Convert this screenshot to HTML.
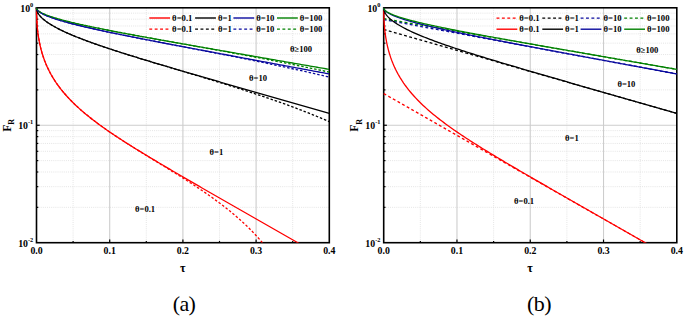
<!DOCTYPE html>
<html><head><meta charset="utf-8"><style>
html,body{margin:0;padding:0;background:#fff;}
body{width:685px;height:317px;overflow:hidden;}
svg{display:block;}
text{font-family:"Liberation Serif",serif;}
.gm{stroke:#dedede;stroke-width:0.8;stroke-dasharray:1 1.1;fill:none;}
.gM{stroke:#cdcdcd;stroke-width:1.1;fill:none;}
.tk{stroke:#000;stroke-width:1.2;}
.fr{fill:none;stroke:#000;stroke-width:1.6;}
.cs{fill:none;stroke-width:1.3;stroke-linejoin:round;}
.cda{fill:none;stroke-width:1.3;stroke-dasharray:2.5 1.9;}
.cdb{fill:none;stroke-width:1.3;stroke-dasharray:2.9 2.4;}
.ls{stroke-width:1.4;}
.ld{stroke-width:1.25;stroke-dasharray:2.9 2.5;}
.lg{font-size:8.7px;font-weight:bold;fill:#000;}
.tl{font-size:9.8px;font-weight:bold;fill:#000;}
.sup{font-size:6.3px;}
.an{font-size:8.6px;font-weight:bold;fill:#000;}
.cap{font-size:22px;fill:#000;letter-spacing:-0.6px;}
</style></head><body>
<svg width="685" height="317" viewBox="0 0 685 317">
<defs>
<clipPath id="cl"><rect x="34.5" y="5.8" width="294.8" height="236.89999999999998"/></clipPath>
<clipPath id="cr"><rect x="381.7" y="5.8" width="295.09999999999997" height="236.89999999999998"/></clipPath>
</defs>
<g><line x1="73.10" y1="7.80" x2="73.10" y2="242.70" class="gm"/>
<line x1="146.30" y1="7.80" x2="146.30" y2="242.70" class="gm"/>
<line x1="219.50" y1="7.80" x2="219.50" y2="242.70" class="gm"/>
<line x1="292.70" y1="7.80" x2="292.70" y2="242.70" class="gm"/>
<line x1="36.50" y1="207.34" x2="329.30" y2="207.34" class="gm"/>
<line x1="36.50" y1="186.66" x2="329.30" y2="186.66" class="gm"/>
<line x1="36.50" y1="171.99" x2="329.30" y2="171.99" class="gm"/>
<line x1="36.50" y1="160.61" x2="329.30" y2="160.61" class="gm"/>
<line x1="36.50" y1="151.31" x2="329.30" y2="151.31" class="gm"/>
<line x1="36.50" y1="143.44" x2="329.30" y2="143.44" class="gm"/>
<line x1="36.50" y1="136.63" x2="329.30" y2="136.63" class="gm"/>
<line x1="36.50" y1="130.62" x2="329.30" y2="130.62" class="gm"/>
<line x1="36.50" y1="89.89" x2="329.30" y2="89.89" class="gm"/>
<line x1="36.50" y1="69.21" x2="329.30" y2="69.21" class="gm"/>
<line x1="36.50" y1="54.54" x2="329.30" y2="54.54" class="gm"/>
<line x1="36.50" y1="43.16" x2="329.30" y2="43.16" class="gm"/>
<line x1="36.50" y1="33.86" x2="329.30" y2="33.86" class="gm"/>
<line x1="36.50" y1="25.99" x2="329.30" y2="25.99" class="gm"/>
<line x1="36.50" y1="19.18" x2="329.30" y2="19.18" class="gm"/>
<line x1="36.50" y1="13.17" x2="329.30" y2="13.17" class="gm"/>
<line x1="109.70" y1="7.80" x2="109.70" y2="242.70" class="gM"/>
<line x1="182.90" y1="7.80" x2="182.90" y2="242.70" class="gM"/>
<line x1="256.10" y1="7.80" x2="256.10" y2="242.70" class="gM"/>
<line x1="36.50" y1="125.25" x2="329.30" y2="125.25" class="gM"/></g>
<g><line x1="420.34" y1="7.80" x2="420.34" y2="242.70" class="gm"/>
<line x1="493.61" y1="7.80" x2="493.61" y2="242.70" class="gm"/>
<line x1="566.89" y1="7.80" x2="566.89" y2="242.70" class="gm"/>
<line x1="640.16" y1="7.80" x2="640.16" y2="242.70" class="gm"/>
<line x1="383.70" y1="207.34" x2="676.80" y2="207.34" class="gm"/>
<line x1="383.70" y1="186.66" x2="676.80" y2="186.66" class="gm"/>
<line x1="383.70" y1="171.99" x2="676.80" y2="171.99" class="gm"/>
<line x1="383.70" y1="160.61" x2="676.80" y2="160.61" class="gm"/>
<line x1="383.70" y1="151.31" x2="676.80" y2="151.31" class="gm"/>
<line x1="383.70" y1="143.44" x2="676.80" y2="143.44" class="gm"/>
<line x1="383.70" y1="136.63" x2="676.80" y2="136.63" class="gm"/>
<line x1="383.70" y1="130.62" x2="676.80" y2="130.62" class="gm"/>
<line x1="383.70" y1="89.89" x2="676.80" y2="89.89" class="gm"/>
<line x1="383.70" y1="69.21" x2="676.80" y2="69.21" class="gm"/>
<line x1="383.70" y1="54.54" x2="676.80" y2="54.54" class="gm"/>
<line x1="383.70" y1="43.16" x2="676.80" y2="43.16" class="gm"/>
<line x1="383.70" y1="33.86" x2="676.80" y2="33.86" class="gm"/>
<line x1="383.70" y1="25.99" x2="676.80" y2="25.99" class="gm"/>
<line x1="383.70" y1="19.18" x2="676.80" y2="19.18" class="gm"/>
<line x1="383.70" y1="13.17" x2="676.80" y2="13.17" class="gm"/>
<line x1="456.97" y1="7.80" x2="456.97" y2="242.70" class="gM"/>
<line x1="530.25" y1="7.80" x2="530.25" y2="242.70" class="gM"/>
<line x1="603.52" y1="7.80" x2="603.52" y2="242.70" class="gM"/>
<line x1="383.70" y1="125.25" x2="676.80" y2="125.25" class="gM"/></g>
<line x1="109.70" y1="242.70" x2="109.70" y2="239.50" class="tk"/>
<line x1="182.90" y1="242.70" x2="182.90" y2="239.50" class="tk"/>
<line x1="256.10" y1="242.70" x2="256.10" y2="239.50" class="tk"/>
<line x1="73.10" y1="242.70" x2="73.10" y2="240.90" class="tk"/>
<line x1="146.30" y1="242.70" x2="146.30" y2="240.90" class="tk"/>
<line x1="219.50" y1="242.70" x2="219.50" y2="240.90" class="tk"/>
<line x1="292.70" y1="242.70" x2="292.70" y2="240.90" class="tk"/>
<line x1="36.50" y1="125.25" x2="39.70" y2="125.25" class="tk"/>
<line x1="36.50" y1="207.34" x2="38.30" y2="207.34" class="tk"/>
<line x1="36.50" y1="186.66" x2="38.30" y2="186.66" class="tk"/>
<line x1="36.50" y1="171.99" x2="38.30" y2="171.99" class="tk"/>
<line x1="36.50" y1="160.61" x2="38.30" y2="160.61" class="tk"/>
<line x1="36.50" y1="151.31" x2="38.30" y2="151.31" class="tk"/>
<line x1="36.50" y1="143.44" x2="38.30" y2="143.44" class="tk"/>
<line x1="36.50" y1="136.63" x2="38.30" y2="136.63" class="tk"/>
<line x1="36.50" y1="130.62" x2="38.30" y2="130.62" class="tk"/>
<line x1="36.50" y1="89.89" x2="38.30" y2="89.89" class="tk"/>
<line x1="36.50" y1="69.21" x2="38.30" y2="69.21" class="tk"/>
<line x1="36.50" y1="54.54" x2="38.30" y2="54.54" class="tk"/>
<line x1="36.50" y1="43.16" x2="38.30" y2="43.16" class="tk"/>
<line x1="36.50" y1="33.86" x2="38.30" y2="33.86" class="tk"/>
<line x1="36.50" y1="25.99" x2="38.30" y2="25.99" class="tk"/>
<line x1="36.50" y1="19.18" x2="38.30" y2="19.18" class="tk"/>
<line x1="36.50" y1="13.17" x2="38.30" y2="13.17" class="tk"/>
<line x1="456.97" y1="242.70" x2="456.97" y2="239.50" class="tk"/>
<line x1="530.25" y1="242.70" x2="530.25" y2="239.50" class="tk"/>
<line x1="603.52" y1="242.70" x2="603.52" y2="239.50" class="tk"/>
<line x1="420.34" y1="242.70" x2="420.34" y2="240.90" class="tk"/>
<line x1="493.61" y1="242.70" x2="493.61" y2="240.90" class="tk"/>
<line x1="566.89" y1="242.70" x2="566.89" y2="240.90" class="tk"/>
<line x1="640.16" y1="242.70" x2="640.16" y2="240.90" class="tk"/>
<line x1="383.70" y1="125.25" x2="386.90" y2="125.25" class="tk"/>
<line x1="383.70" y1="207.34" x2="385.50" y2="207.34" class="tk"/>
<line x1="383.70" y1="186.66" x2="385.50" y2="186.66" class="tk"/>
<line x1="383.70" y1="171.99" x2="385.50" y2="171.99" class="tk"/>
<line x1="383.70" y1="160.61" x2="385.50" y2="160.61" class="tk"/>
<line x1="383.70" y1="151.31" x2="385.50" y2="151.31" class="tk"/>
<line x1="383.70" y1="143.44" x2="385.50" y2="143.44" class="tk"/>
<line x1="383.70" y1="136.63" x2="385.50" y2="136.63" class="tk"/>
<line x1="383.70" y1="130.62" x2="385.50" y2="130.62" class="tk"/>
<line x1="383.70" y1="89.89" x2="385.50" y2="89.89" class="tk"/>
<line x1="383.70" y1="69.21" x2="385.50" y2="69.21" class="tk"/>
<line x1="383.70" y1="54.54" x2="385.50" y2="54.54" class="tk"/>
<line x1="383.70" y1="43.16" x2="385.50" y2="43.16" class="tk"/>
<line x1="383.70" y1="33.86" x2="385.50" y2="33.86" class="tk"/>
<line x1="383.70" y1="25.99" x2="385.50" y2="25.99" class="tk"/>
<line x1="383.70" y1="19.18" x2="385.50" y2="19.18" class="tk"/>
<line x1="383.70" y1="13.17" x2="385.50" y2="13.17" class="tk"/>
<rect x="36.50" y="7.80" width="292.80" height="234.90" class="fr"/>
<rect x="383.70" y="7.80" width="293.10" height="234.90" class="fr"/>
<g clip-path="url(#cl)"><path d="M36.50,7.80 L36.54,12.19 L36.57,13.97 L36.61,15.31 L36.65,16.43 L36.68,17.41 L36.72,18.29 L36.76,19.09 L36.79,19.83 L36.83,20.52 L36.87,21.17 L36.90,21.79 L36.94,22.37 L36.98,22.93 L37.01,23.46 L37.05,23.98 L37.09,24.47 L37.12,24.95 L37.16,25.41 L37.20,25.86 L37.23,26.29 L37.27,26.71 L37.31,27.12 L37.34,27.52 L37.38,27.91 L37.41,28.29 L37.45,28.66 L37.49,29.03 L37.52,29.38 L37.56,29.73 L37.60,30.07 L37.63,30.41 L37.67,30.73 L37.71,31.06 L37.74,31.37 L37.78,31.68 L37.82,31.99 L37.85,32.29 L37.89,32.59 L37.93,32.88 L37.96,33.17 L38.19,34.83 L38.41,36.37 L38.63,37.80 L38.86,39.14 L39.08,40.41 L39.30,41.61 L39.53,42.75 L39.75,43.84 L39.97,44.88 L40.20,45.89 L40.42,46.85 L40.64,47.78 L40.87,48.68 L41.09,49.55 L41.31,50.39 L41.54,51.21 L41.76,52.00 L41.98,52.78 L42.21,53.53 L42.43,54.26 L42.65,54.98 L42.88,55.68 L43.10,56.36 L43.32,57.03 L43.55,57.69 L43.77,58.33 L43.99,58.95 L44.22,59.57 L44.44,60.17 L44.66,60.77 L44.89,61.35 L45.11,61.92 L45.33,62.48 L45.56,63.04 L45.78,63.58 L46.00,64.12 L46.23,64.64 L46.45,65.16 L46.67,65.67 L46.90,66.18 L47.12,66.67 L47.34,67.16 L47.57,67.65 L47.79,68.12 L48.01,68.59 L48.24,69.06 L48.46,69.52 L48.68,69.97 L48.91,70.42 L49.13,70.86 L49.35,71.30 L49.58,71.73 L49.80,72.15 L50.02,72.58 L50.25,72.99 L50.47,73.41 L50.69,73.82 L50.92,74.22 L51.14,74.62 L52.89,77.62 L54.64,80.42 L56.39,83.04 L58.14,85.51 L59.89,87.85 L61.64,90.09 L63.39,92.22 L65.14,94.27 L66.88,96.24 L68.63,98.14 L70.38,99.97 L72.13,101.75 L73.88,103.48 L75.63,105.16 L77.38,106.79 L79.13,108.38 L80.88,109.94 L82.63,111.46 L84.38,112.95 L86.13,114.41 L87.88,115.84 L89.63,117.25 L91.38,118.63 L93.13,119.99 L94.88,121.32 L96.63,122.64 L98.37,123.94 L100.12,125.23 L101.87,126.49 L103.62,127.74 L105.37,128.98 L107.12,130.20 L108.87,131.41 L110.62,132.61 L112.37,133.80 L114.12,134.97 L115.87,136.14 L117.62,137.29 L119.37,138.44 L121.12,139.58 L122.87,140.71 L124.62,141.83 L126.37,142.95 L128.12,144.06 L129.86,145.16 L131.61,146.26 L133.36,147.35 L135.11,148.44 L136.86,149.52 L138.61,150.60 L140.36,151.67 L142.11,152.74 L143.86,153.80 L145.61,154.86 L147.36,155.92 L149.11,156.97 L150.86,158.02 L152.61,159.07 L154.36,160.12 L156.11,161.16 L157.86,162.20 L159.60,163.24 L161.35,164.27 L163.10,165.30 L164.85,166.34 L166.60,167.37 L168.35,168.39 L170.10,169.42 L171.85,170.44 L173.60,171.47 L175.35,172.49 L177.10,173.51 L178.85,174.53 L180.60,175.54 L182.35,176.56 L184.10,177.58 L185.85,178.59 L187.60,179.61 L189.35,180.62 L191.09,181.63 L192.84,182.64 L194.59,183.65 L196.34,184.66 L198.09,185.67 L199.84,186.68 L201.59,187.69 L203.34,188.70 L205.09,189.71 L206.84,190.71 L208.59,191.72 L210.34,192.72 L212.09,193.73 L213.84,194.74 L215.59,195.74 L217.34,196.74 L219.09,197.75 L220.84,198.75 L222.58,199.76 L224.33,200.76 L226.08,201.76 L227.83,202.77 L229.58,203.77 L231.33,204.77 L233.08,205.77 L234.83,206.77 L236.58,207.78 L238.33,208.78 L240.08,209.78 L241.83,210.78 L243.58,211.78 L245.33,212.78 L247.08,213.78 L248.83,214.79 L250.58,215.79 L252.32,216.79 L254.07,217.79 L255.82,218.79 L257.57,219.79 L259.32,220.79 L261.07,221.79 L262.82,222.79 L264.57,223.79 L266.32,224.79 L268.07,225.79 L269.82,226.79 L271.57,227.79 L273.32,228.79 L275.07,229.79 L276.82,230.79 L278.57,231.79 L280.32,232.79 L282.07,233.79 L283.81,234.79 L285.56,235.79 L287.31,236.79 L289.06,237.79 L290.81,238.79 L292.56,239.79 L294.31,240.78 L296.06,241.78 L297.81,242.78 L299.56,243.78 L301.31,244.78 L303.06,245.78" stroke="#ff0000" class="cs"/>
<path d="M36.50,7.80 L36.54,8.62 L36.57,8.95 L36.61,9.21 L36.65,9.43 L36.68,9.63 L36.72,9.80 L36.76,9.96 L36.79,10.11 L36.83,10.25 L36.87,10.39 L36.90,10.52 L36.94,10.64 L36.98,10.75 L37.01,10.87 L37.05,10.97 L37.09,11.08 L37.12,11.18 L37.16,11.28 L37.20,11.38 L37.23,11.47 L37.27,11.56 L37.31,11.65 L37.34,11.74 L37.38,11.82 L37.41,11.91 L37.45,11.99 L37.49,12.07 L37.52,12.15 L37.56,12.23 L37.60,12.30 L37.63,12.38 L37.67,12.45 L37.71,12.52 L37.74,12.60 L37.78,12.67 L37.82,12.74 L37.85,12.81 L37.89,12.87 L37.93,12.94 L37.96,13.01 L38.19,13.40 L38.41,13.76 L38.63,14.10 L38.86,14.43 L39.08,14.74 L39.30,15.04 L39.53,15.33 L39.75,15.61 L39.97,15.88 L40.20,16.14 L40.42,16.39 L40.64,16.64 L40.87,16.88 L41.09,17.11 L41.31,17.34 L41.54,17.57 L41.76,17.79 L41.98,18.00 L42.21,18.21 L42.43,18.42 L42.65,18.62 L42.88,18.82 L43.10,19.02 L43.32,19.22 L43.55,19.41 L43.77,19.59 L43.99,19.78 L44.22,19.96 L44.44,20.14 L44.66,20.32 L44.89,20.50 L45.11,20.67 L45.33,20.84 L45.56,21.01 L45.78,21.18 L46.00,21.35 L46.23,21.51 L46.45,21.67 L46.67,21.83 L46.90,21.99 L47.12,22.15 L47.34,22.31 L47.57,22.46 L47.79,22.62 L48.01,22.77 L48.24,22.92 L48.46,23.07 L48.68,23.22 L48.91,23.36 L49.13,23.51 L49.35,23.65 L49.58,23.80 L49.80,23.94 L50.02,24.08 L50.25,24.22 L50.47,24.36 L50.69,24.50 L50.92,24.64 L51.14,24.77 L52.89,25.81 L54.64,26.80 L56.39,27.75 L58.14,28.67 L59.89,29.55 L61.64,30.41 L63.39,31.24 L65.14,32.05 L66.88,32.84 L68.63,33.62 L70.38,34.37 L72.13,35.12 L73.88,35.84 L75.63,36.56 L77.38,37.26 L79.13,37.95 L80.88,38.64 L82.63,39.31 L84.38,39.97 L86.13,40.63 L87.88,41.28 L89.63,41.92 L91.38,42.55 L93.13,43.18 L94.88,43.80 L96.63,44.41 L98.37,45.02 L100.12,45.63 L101.87,46.23 L103.62,46.82 L105.37,47.41 L107.12,48.00 L108.87,48.58 L110.62,49.16 L112.37,49.73 L114.12,50.30 L115.87,50.87 L117.62,51.44 L119.37,52.00 L121.12,52.56 L122.87,53.11 L124.62,53.67 L126.37,54.22 L128.12,54.77 L129.86,55.31 L131.61,55.86 L133.36,56.40 L135.11,56.94 L136.86,57.48 L138.61,58.02 L140.36,58.55 L142.11,59.09 L143.86,59.62 L145.61,60.15 L147.36,60.68 L149.11,61.21 L150.86,61.74 L152.61,62.26 L154.36,62.79 L156.11,63.31 L157.86,63.83 L159.60,64.35 L161.35,64.88 L163.10,65.40 L164.85,65.91 L166.60,66.43 L168.35,66.95 L170.10,67.47 L171.85,67.98 L173.60,68.50 L175.35,69.01 L177.10,69.53 L178.85,70.04 L180.60,70.55 L182.35,71.07 L184.10,71.58 L185.85,72.09 L187.60,72.60 L189.35,73.11 L191.09,73.62 L192.84,74.13 L194.59,74.64 L196.34,75.15 L198.09,75.66 L199.84,76.17 L201.59,76.68 L203.34,77.18 L205.09,77.69 L206.84,78.20 L208.59,78.71 L210.34,79.21 L212.09,79.72 L213.84,80.23 L215.59,80.73 L217.34,81.24 L219.09,81.74 L220.84,82.25 L222.58,82.75 L224.33,83.26 L226.08,83.76 L227.83,84.27 L229.58,84.77 L231.33,85.28 L233.08,85.78 L234.83,86.29 L236.58,86.79 L238.33,87.30 L240.08,87.80 L241.83,88.30 L243.58,88.81 L245.33,89.31 L247.08,89.81 L248.83,90.32 L250.58,90.82 L252.32,91.32 L254.07,91.83 L255.82,92.33 L257.57,92.83 L259.32,93.34 L261.07,93.84 L262.82,94.34 L264.57,94.85 L266.32,95.35 L268.07,95.85 L269.82,96.35 L271.57,96.86 L273.32,97.36 L275.07,97.86 L276.82,98.36 L278.57,98.87 L280.32,99.37 L282.07,99.87 L283.81,100.37 L285.56,100.88 L287.31,101.38 L289.06,101.88 L290.81,102.38 L292.56,102.89 L294.31,103.39 L296.06,103.89 L297.81,104.39 L299.56,104.90 L301.31,105.40 L303.06,105.90 L304.81,106.40 L306.56,106.90 L308.31,107.41 L310.06,107.91 L311.81,108.41 L313.56,108.91 L315.30,109.41 L317.05,109.92 L318.80,110.42 L320.55,110.92 L322.30,111.42 L324.05,111.92 L325.80,112.43 L327.55,112.93 L329.30,113.43" stroke="#000000" class="cs"/>
<path d="M36.50,7.80 L36.54,8.21 L36.57,8.38 L36.61,8.52 L36.65,8.63 L36.68,8.73 L36.72,8.82 L36.76,8.90 L36.79,8.98 L36.83,9.05 L36.87,9.12 L36.90,9.18 L36.94,9.24 L36.98,9.30 L37.01,9.36 L37.05,9.42 L37.09,9.47 L37.12,9.52 L37.16,9.57 L37.20,9.62 L37.23,9.67 L37.27,9.72 L37.31,9.76 L37.34,9.81 L37.38,9.85 L37.41,9.90 L37.45,9.94 L37.49,9.98 L37.52,10.02 L37.56,10.06 L37.60,10.10 L37.63,10.14 L37.67,10.18 L37.71,10.22 L37.74,10.25 L37.78,10.29 L37.82,10.33 L37.85,10.36 L37.89,10.40 L37.93,10.43 L37.96,10.47 L38.19,10.67 L38.41,10.86 L38.63,11.04 L38.86,11.21 L39.08,11.37 L39.30,11.53 L39.53,11.68 L39.75,11.83 L39.97,11.97 L40.20,12.11 L40.42,12.24 L40.64,12.37 L40.87,12.50 L41.09,12.62 L41.31,12.74 L41.54,12.86 L41.76,12.98 L41.98,13.09 L42.21,13.21 L42.43,13.32 L42.65,13.42 L42.88,13.53 L43.10,13.64 L43.32,13.74 L43.55,13.84 L43.77,13.94 L43.99,14.04 L44.22,14.14 L44.44,14.24 L44.66,14.33 L44.89,14.43 L45.11,14.52 L45.33,14.62 L45.56,14.71 L45.78,14.80 L46.00,14.89 L46.23,14.98 L46.45,15.06 L46.67,15.15 L46.90,15.24 L47.12,15.32 L47.34,15.41 L47.57,15.49 L47.79,15.58 L48.01,15.66 L48.24,15.74 L48.46,15.82 L48.68,15.90 L48.91,15.98 L49.13,16.06 L49.35,16.14 L49.58,16.22 L49.80,16.30 L50.02,16.37 L50.25,16.45 L50.47,16.53 L50.69,16.60 L50.92,16.68 L51.14,16.75 L52.89,17.32 L54.64,17.87 L56.39,18.40 L58.14,18.91 L59.89,19.40 L61.64,19.88 L63.39,20.35 L65.14,20.80 L66.88,21.25 L68.63,21.69 L70.38,22.12 L72.13,22.54 L73.88,22.95 L75.63,23.36 L77.38,23.77 L79.13,24.16 L80.88,24.56 L82.63,24.94 L84.38,25.33 L86.13,25.71 L87.88,26.08 L89.63,26.45 L91.38,26.82 L93.13,27.19 L94.88,27.55 L96.63,27.91 L98.37,28.26 L100.12,28.62 L101.87,28.97 L103.62,29.32 L105.37,29.67 L107.12,30.01 L108.87,30.35 L110.62,30.69 L112.37,31.03 L114.12,31.37 L115.87,31.71 L117.62,32.04 L119.37,32.37 L121.12,32.71 L122.87,33.04 L124.62,33.36 L126.37,33.69 L128.12,34.02 L129.86,34.34 L131.61,34.67 L133.36,34.99 L135.11,35.31 L136.86,35.64 L138.61,35.96 L140.36,36.28 L142.11,36.60 L143.86,36.91 L145.61,37.23 L147.36,37.55 L149.11,37.87 L150.86,38.18 L152.61,38.50 L154.36,38.81 L156.11,39.13 L157.86,39.44 L159.60,39.75 L161.35,40.07 L163.10,40.38 L164.85,40.69 L166.60,41.00 L168.35,41.31 L170.10,41.62 L171.85,41.93 L173.60,42.24 L175.35,42.55 L177.10,42.86 L178.85,43.17 L180.60,43.48 L182.35,43.79 L184.10,44.10 L185.85,44.41 L187.60,44.71 L189.35,45.02 L191.09,45.33 L192.84,45.64 L194.59,45.94 L196.34,46.25 L198.09,46.56 L199.84,46.86 L201.59,47.17 L203.34,47.48 L205.09,47.78 L206.84,48.09 L208.59,48.40 L210.34,48.70 L212.09,49.01 L213.84,49.31 L215.59,49.62 L217.34,49.92 L219.09,50.23 L220.84,50.53 L222.58,50.84 L224.33,51.14 L226.08,51.45 L227.83,51.75 L229.58,52.06 L231.33,52.36 L233.08,52.67 L234.83,52.97 L236.58,53.28 L238.33,53.58 L240.08,53.88 L241.83,54.19 L243.58,54.49 L245.33,54.80 L247.08,55.10 L248.83,55.41 L250.58,55.71 L252.32,56.01 L254.07,56.32 L255.82,56.62 L257.57,56.93 L259.32,57.23 L261.07,57.53 L262.82,57.84 L264.57,58.14 L266.32,58.45 L268.07,58.75 L269.82,59.05 L271.57,59.36 L273.32,59.66 L275.07,59.96 L276.82,60.27 L278.57,60.57 L280.32,60.87 L282.07,61.18 L283.81,61.48 L285.56,61.79 L287.31,62.09 L289.06,62.39 L290.81,62.70 L292.56,63.00 L294.31,63.30 L296.06,63.61 L297.81,63.91 L299.56,64.21 L301.31,64.52 L303.06,64.82 L304.81,65.12 L306.56,65.43 L308.31,65.73 L310.06,66.03 L311.81,66.34 L313.56,66.64 L315.30,66.94 L317.05,67.25 L318.80,67.55 L320.55,67.85 L322.30,68.16 L324.05,68.46 L325.80,68.76 L327.55,69.07 L329.30,69.37" stroke="#008000" class="cs"/>
<path d="M36.50,7.80 L36.54,8.25 L36.57,8.44 L36.61,8.58 L36.65,8.70 L36.68,8.81 L36.72,8.91 L36.76,9.00 L36.79,9.08 L36.83,9.16 L36.87,9.23 L36.90,9.30 L36.94,9.37 L36.98,9.44 L37.01,9.50 L37.05,9.56 L37.09,9.62 L37.12,9.68 L37.16,9.73 L37.20,9.78 L37.23,9.84 L37.27,9.89 L37.31,9.94 L37.34,9.99 L37.38,10.03 L37.41,10.08 L37.45,10.13 L37.49,10.17 L37.52,10.22 L37.56,10.26 L37.60,10.30 L37.63,10.35 L37.67,10.39 L37.71,10.43 L37.74,10.47 L37.78,10.51 L37.82,10.55 L37.85,10.59 L37.89,10.63 L37.93,10.66 L37.96,10.70 L38.19,10.92 L38.41,11.13 L38.63,11.32 L38.86,11.51 L39.08,11.68 L39.30,11.85 L39.53,12.02 L39.75,12.18 L39.97,12.33 L40.20,12.48 L40.42,12.62 L40.64,12.77 L40.87,12.90 L41.09,13.04 L41.31,13.17 L41.54,13.30 L41.76,13.43 L41.98,13.55 L42.21,13.67 L42.43,13.79 L42.65,13.91 L42.88,14.03 L43.10,14.14 L43.32,14.25 L43.55,14.36 L43.77,14.47 L43.99,14.58 L44.22,14.69 L44.44,14.79 L44.66,14.90 L44.89,15.00 L45.11,15.10 L45.33,15.20 L45.56,15.30 L45.78,15.40 L46.00,15.49 L46.23,15.59 L46.45,15.69 L46.67,15.78 L46.90,15.87 L47.12,15.97 L47.34,16.06 L47.57,16.15 L47.79,16.24 L48.01,16.33 L48.24,16.42 L48.46,16.50 L48.68,16.59 L48.91,16.68 L49.13,16.76 L49.35,16.85 L49.58,16.93 L49.80,17.02 L50.02,17.10 L50.25,17.18 L50.47,17.27 L50.69,17.35 L50.92,17.43 L51.14,17.51 L52.89,18.13 L54.64,18.72 L56.39,19.29 L58.14,19.84 L59.89,20.37 L61.64,20.89 L63.39,21.39 L65.14,21.88 L66.88,22.36 L68.63,22.84 L70.38,23.30 L72.13,23.75 L73.88,24.20 L75.63,24.64 L77.38,25.08 L79.13,25.50 L80.88,25.93 L82.63,26.34 L84.38,26.76 L86.13,27.16 L87.88,27.57 L89.63,27.97 L91.38,28.36 L93.13,28.75 L94.88,29.14 L96.63,29.53 L98.37,29.91 L100.12,30.29 L101.87,30.67 L103.62,31.04 L105.37,31.42 L107.12,31.79 L108.87,32.16 L110.62,32.52 L112.37,32.89 L114.12,33.25 L115.87,33.61 L117.62,33.97 L119.37,34.32 L121.12,34.68 L122.87,35.03 L124.62,35.39 L126.37,35.74 L128.12,36.09 L129.86,36.44 L131.61,36.79 L133.36,37.13 L135.11,37.48 L136.86,37.82 L138.61,38.17 L140.36,38.51 L142.11,38.85 L143.86,39.19 L145.61,39.53 L147.36,39.87 L149.11,40.21 L150.86,40.55 L152.61,40.89 L154.36,41.23 L156.11,41.56 L157.86,41.90 L159.60,42.24 L161.35,42.57 L163.10,42.90 L164.85,43.24 L166.60,43.57 L168.35,43.91 L170.10,44.24 L171.85,44.57 L173.60,44.90 L175.35,45.24 L177.10,45.57 L178.85,45.90 L180.60,46.23 L182.35,46.56 L184.10,46.89 L185.85,47.22 L187.60,47.55 L189.35,47.88 L191.09,48.21 L192.84,48.54 L194.59,48.87 L196.34,49.20 L198.09,49.52 L199.84,49.85 L201.59,50.18 L203.34,50.51 L205.09,50.84 L206.84,51.16 L208.59,51.49 L210.34,51.82 L212.09,52.15 L213.84,52.47 L215.59,52.80 L217.34,53.13 L219.09,53.46 L220.84,53.78 L222.58,54.11 L224.33,54.44 L226.08,54.76 L227.83,55.09 L229.58,55.41 L231.33,55.74 L233.08,56.07 L234.83,56.39 L236.58,56.72 L238.33,57.05 L240.08,57.37 L241.83,57.70 L243.58,58.02 L245.33,58.35 L247.08,58.67 L248.83,59.00 L250.58,59.33 L252.32,59.65 L254.07,59.98 L255.82,60.30 L257.57,60.63 L259.32,60.95 L261.07,61.28 L262.82,61.60 L264.57,61.93 L266.32,62.25 L268.07,62.58 L269.82,62.91 L271.57,63.23 L273.32,63.56 L275.07,63.88 L276.82,64.21 L278.57,64.53 L280.32,64.86 L282.07,65.18 L283.81,65.51 L285.56,65.83 L287.31,66.16 L289.06,66.48 L290.81,66.81 L292.56,67.13 L294.31,67.46 L296.06,67.78 L297.81,68.11 L299.56,68.43 L301.31,68.76 L303.06,69.08 L304.81,69.41 L306.56,69.73 L308.31,70.06 L310.06,70.38 L311.81,70.71 L313.56,71.03 L315.30,71.36 L317.05,71.68 L318.80,72.01 L320.55,72.33 L322.30,72.65 L324.05,72.98 L325.80,73.30 L327.55,73.63 L329.30,73.95" stroke="#0a0a9e" class="cs"/>
<path d="M36.50,7.80 L36.54,12.19 L36.57,13.97 L36.61,15.31 L36.65,16.43 L36.68,17.41 L36.72,18.29 L36.76,19.09 L36.79,19.83 L36.83,20.52 L36.87,21.17 L36.90,21.79 L36.94,22.37 L36.98,22.93 L37.01,23.46 L37.05,23.98 L37.09,24.47 L37.12,24.95 L37.16,25.41 L37.20,25.86 L37.23,26.29 L37.27,26.71 L37.31,27.12 L37.34,27.52 L37.38,27.91 L37.41,28.29 L37.45,28.66 L37.49,29.03 L37.52,29.38 L37.56,29.73 L37.60,30.07 L37.63,30.41 L37.67,30.73 L37.71,31.06 L37.74,31.37 L37.78,31.68 L37.82,31.99 L37.85,32.29 L37.89,32.59 L37.93,32.88 L37.96,33.17 L38.19,34.83 L38.41,36.37 L38.63,37.80 L38.86,39.14 L39.08,40.41 L39.30,41.61 L39.53,42.75 L39.75,43.84 L39.97,44.88 L40.20,45.89 L40.42,46.85 L40.64,47.78 L40.87,48.68 L41.09,49.55 L41.31,50.39 L41.54,51.21 L41.76,52.00 L41.98,52.78 L42.21,53.53 L42.43,54.26 L42.65,54.98 L42.88,55.68 L43.10,56.36 L43.32,57.03 L43.55,57.69 L43.77,58.33 L43.99,58.95 L44.22,59.57 L44.44,60.17 L44.66,60.77 L44.89,61.35 L45.11,61.92 L45.33,62.48 L45.56,63.04 L45.78,63.58 L46.00,64.12 L46.23,64.64 L46.45,65.16 L46.67,65.67 L46.90,66.18 L47.12,66.67 L47.34,67.16 L47.57,67.65 L47.79,68.12 L48.01,68.59 L48.24,69.06 L48.46,69.52 L48.68,69.97 L48.91,70.42 L49.13,70.86 L49.35,71.30 L49.58,71.73 L49.80,72.15 L50.02,72.58 L50.25,72.99 L50.47,73.41 L50.69,73.82 L50.92,74.22 L51.14,74.62 L52.89,77.62 L54.64,80.42 L56.39,83.04 L58.14,85.51 L59.89,87.85 L61.64,90.09 L63.39,92.22 L65.14,94.27 L66.88,96.24 L68.63,98.14 L70.38,99.97 L72.13,101.75 L73.88,103.48 L75.63,105.16 L77.38,106.79 L79.13,108.38 L80.88,109.94 L82.63,111.46 L84.38,112.95 L86.13,114.41 L87.88,115.84 L89.63,117.25 L91.38,118.63 L93.13,119.99 L94.88,121.32 L96.63,122.64 L98.37,123.94 L100.12,125.23 L101.87,126.49 L103.62,127.74 L105.37,128.98 L107.12,130.20 L108.87,131.41 L110.62,132.61 L112.37,133.80 L114.12,134.98 L115.87,136.14 L117.62,137.30 L119.37,138.45 L121.12,139.59 L122.87,140.73 L124.62,141.85 L126.37,142.97 L128.12,144.09 L129.86,145.19 L131.61,146.30 L133.36,147.40 L135.11,148.49 L136.86,149.58 L138.61,150.67 L140.36,151.75 L142.11,152.83 L143.86,153.91 L145.61,154.99 L147.36,156.06 L149.11,157.13 L150.86,158.21 L152.61,159.28 L154.36,160.35 L156.11,161.42 L157.86,162.49 L159.60,163.56 L161.35,164.63 L163.10,165.71 L164.85,166.78 L166.60,167.86 L168.35,168.94 L170.10,170.02 L171.85,171.10 L173.60,172.19 L175.35,173.28 L177.10,174.37 L178.85,175.47 L180.60,176.57 L182.35,177.67 L184.10,178.79 L185.85,179.90 L187.60,181.03 L189.35,182.15 L191.09,183.29 L192.84,184.43 L194.59,185.58 L196.34,186.74 L198.09,187.90 L199.84,189.08 L201.59,190.26 L203.34,191.45 L205.09,192.65 L206.84,193.87 L208.59,195.09 L210.34,196.32 L212.09,197.57 L213.84,198.83 L215.59,200.11 L217.34,201.39 L219.09,202.70 L220.84,204.01 L222.58,205.35 L224.33,206.70 L226.08,208.07 L227.83,209.46 L229.58,210.86 L231.33,212.29 L233.08,213.74 L234.83,215.22 L236.58,216.71 L238.33,218.24 L240.08,219.79 L241.83,221.37 L243.58,222.98 L245.33,224.62 L247.08,226.29 L248.83,228.00 L250.58,229.75 L252.32,231.54 L254.07,233.37 L255.82,235.24 L257.57,237.17 L259.32,239.15 L261.07,241.18 L262.82,243.27 L264.57,245.43 L266.32,247.66" stroke="#ff0000" class="cda"/>
<path d="M36.50,7.80 L36.54,8.62 L36.57,8.95 L36.61,9.21 L36.65,9.43 L36.68,9.63 L36.72,9.80 L36.76,9.96 L36.79,10.11 L36.83,10.25 L36.87,10.39 L36.90,10.52 L36.94,10.64 L36.98,10.75 L37.01,10.87 L37.05,10.97 L37.09,11.08 L37.12,11.18 L37.16,11.28 L37.20,11.38 L37.23,11.47 L37.27,11.56 L37.31,11.65 L37.34,11.74 L37.38,11.82 L37.41,11.91 L37.45,11.99 L37.49,12.07 L37.52,12.15 L37.56,12.23 L37.60,12.30 L37.63,12.38 L37.67,12.45 L37.71,12.52 L37.74,12.60 L37.78,12.67 L37.82,12.74 L37.85,12.81 L37.89,12.87 L37.93,12.94 L37.96,13.01 L38.19,13.40 L38.41,13.76 L38.63,14.10 L38.86,14.43 L39.08,14.74 L39.30,15.04 L39.53,15.33 L39.75,15.61 L39.97,15.88 L40.20,16.14 L40.42,16.39 L40.64,16.64 L40.87,16.88 L41.09,17.11 L41.31,17.34 L41.54,17.57 L41.76,17.79 L41.98,18.00 L42.21,18.21 L42.43,18.42 L42.65,18.62 L42.88,18.82 L43.10,19.02 L43.32,19.22 L43.55,19.41 L43.77,19.59 L43.99,19.78 L44.22,19.96 L44.44,20.14 L44.66,20.32 L44.89,20.50 L45.11,20.67 L45.33,20.84 L45.56,21.01 L45.78,21.18 L46.00,21.35 L46.23,21.51 L46.45,21.67 L46.67,21.83 L46.90,21.99 L47.12,22.15 L47.34,22.31 L47.57,22.46 L47.79,22.62 L48.01,22.77 L48.24,22.92 L48.46,23.07 L48.68,23.22 L48.91,23.36 L49.13,23.51 L49.35,23.65 L49.58,23.80 L49.80,23.94 L50.02,24.08 L50.25,24.22 L50.47,24.36 L50.69,24.50 L50.92,24.64 L51.14,24.77 L52.89,25.81 L54.64,26.80 L56.39,27.75 L58.14,28.67 L59.89,29.55 L61.64,30.41 L63.39,31.24 L65.14,32.05 L66.88,32.84 L68.63,33.62 L70.38,34.37 L72.13,35.12 L73.88,35.84 L75.63,36.56 L77.38,37.26 L79.13,37.95 L80.88,38.64 L82.63,39.31 L84.38,39.97 L86.13,40.63 L87.88,41.28 L89.63,41.92 L91.38,42.55 L93.13,43.18 L94.88,43.80 L96.63,44.41 L98.37,45.02 L100.12,45.63 L101.87,46.23 L103.62,46.82 L105.37,47.41 L107.12,48.00 L108.87,48.58 L110.62,49.16 L112.37,49.73 L114.12,50.30 L115.87,50.87 L117.62,51.44 L119.37,52.00 L121.12,52.56 L122.87,53.11 L124.62,53.67 L126.37,54.22 L128.12,54.77 L129.86,55.32 L131.61,55.86 L133.36,56.41 L135.11,56.95 L136.86,57.49 L138.61,58.03 L140.36,58.56 L142.11,59.10 L143.86,59.63 L145.61,60.16 L147.36,60.70 L149.11,61.23 L150.86,61.76 L152.61,62.29 L154.36,62.81 L156.11,63.34 L157.86,63.87 L159.60,64.39 L161.35,64.92 L163.10,65.44 L164.85,65.97 L166.60,66.49 L168.35,67.02 L170.10,67.54 L171.85,68.06 L173.60,68.59 L175.35,69.11 L177.10,69.63 L178.85,70.16 L180.60,70.68 L182.35,71.20 L184.10,71.73 L185.85,72.25 L187.60,72.78 L189.35,73.30 L191.09,73.83 L192.84,74.35 L194.59,74.88 L196.34,75.41 L198.09,75.93 L199.84,76.46 L201.59,76.99 L203.34,77.52 L205.09,78.05 L206.84,78.58 L208.59,79.11 L210.34,79.65 L212.09,80.18 L213.84,80.72 L215.59,81.25 L217.34,81.79 L219.09,82.33 L220.84,82.87 L222.58,83.41 L224.33,83.96 L226.08,84.50 L227.83,85.05 L229.58,85.60 L231.33,86.15 L233.08,86.70 L234.83,87.25 L236.58,87.81 L238.33,88.36 L240.08,88.92 L241.83,89.48 L243.58,90.04 L245.33,90.61 L247.08,91.18 L248.83,91.75 L250.58,92.32 L252.32,92.89 L254.07,93.47 L255.82,94.05 L257.57,94.63 L259.32,95.21 L261.07,95.80 L262.82,96.39 L264.57,96.98 L266.32,97.57 L268.07,98.17 L269.82,98.77 L271.57,99.38 L273.32,99.98 L275.07,100.59 L276.82,101.21 L278.57,101.83 L280.32,102.45 L282.07,103.07 L283.81,103.70 L285.56,104.33 L287.31,104.97 L289.06,105.61 L290.81,106.25 L292.56,106.90 L294.31,107.55 L296.06,108.21 L297.81,108.87 L299.56,109.54 L301.31,110.21 L303.06,110.88 L304.81,111.56 L306.56,112.25 L308.31,112.94 L310.06,113.64 L311.81,114.34 L313.56,115.05 L315.30,115.76 L317.05,116.48 L318.80,117.21 L320.55,117.94 L322.30,118.68 L324.05,119.42 L325.80,120.17 L327.55,120.93 L329.30,121.70" stroke="#000000" class="cda"/>
<path d="M36.50,7.80 L36.54,8.25 L36.57,8.44 L36.61,8.58 L36.65,8.70 L36.68,8.81 L36.72,8.91 L36.76,9.00 L36.79,9.08 L36.83,9.16 L36.87,9.23 L36.90,9.30 L36.94,9.37 L36.98,9.44 L37.01,9.50 L37.05,9.56 L37.09,9.62 L37.12,9.68 L37.16,9.73 L37.20,9.78 L37.23,9.84 L37.27,9.89 L37.31,9.94 L37.34,9.99 L37.38,10.03 L37.41,10.08 L37.45,10.13 L37.49,10.17 L37.52,10.22 L37.56,10.26 L37.60,10.30 L37.63,10.35 L37.67,10.39 L37.71,10.43 L37.74,10.47 L37.78,10.51 L37.82,10.55 L37.85,10.59 L37.89,10.63 L37.93,10.66 L37.96,10.70 L38.19,10.92 L38.41,11.13 L38.63,11.32 L38.86,11.51 L39.08,11.68 L39.30,11.85 L39.53,12.02 L39.75,12.18 L39.97,12.33 L40.20,12.48 L40.42,12.62 L40.64,12.77 L40.87,12.90 L41.09,13.04 L41.31,13.17 L41.54,13.30 L41.76,13.43 L41.98,13.55 L42.21,13.67 L42.43,13.79 L42.65,13.91 L42.88,14.03 L43.10,14.14 L43.32,14.25 L43.55,14.36 L43.77,14.47 L43.99,14.58 L44.22,14.69 L44.44,14.79 L44.66,14.90 L44.89,15.00 L45.11,15.10 L45.33,15.20 L45.56,15.30 L45.78,15.40 L46.00,15.49 L46.23,15.59 L46.45,15.69 L46.67,15.78 L46.90,15.87 L47.12,15.97 L47.34,16.06 L47.57,16.15 L47.79,16.24 L48.01,16.33 L48.24,16.42 L48.46,16.50 L48.68,16.59 L48.91,16.68 L49.13,16.76 L49.35,16.85 L49.58,16.93 L49.80,17.02 L50.02,17.10 L50.25,17.18 L50.47,17.27 L50.69,17.35 L50.92,17.43 L51.14,17.51 L52.89,18.13 L54.64,18.72 L56.39,19.29 L58.14,19.84 L59.89,20.37 L61.64,20.89 L63.39,21.39 L65.14,21.88 L66.88,22.36 L68.63,22.84 L70.38,23.30 L72.13,23.75 L73.88,24.20 L75.63,24.64 L77.38,25.08 L79.13,25.50 L80.88,25.93 L82.63,26.34 L84.38,26.76 L86.13,27.16 L87.88,27.57 L89.63,27.97 L91.38,28.36 L93.13,28.75 L94.88,29.14 L96.63,29.53 L98.37,29.91 L100.12,30.29 L101.87,30.67 L103.62,31.04 L105.37,31.42 L107.12,31.79 L108.87,32.16 L110.62,32.52 L112.37,32.89 L114.12,33.25 L115.87,33.61 L117.62,33.97 L119.37,34.32 L121.12,34.68 L122.87,35.03 L124.62,35.39 L126.37,35.74 L128.12,36.09 L129.86,36.44 L131.61,36.79 L133.36,37.13 L135.11,37.48 L136.86,37.83 L138.61,38.17 L140.36,38.51 L142.11,38.86 L143.86,39.20 L145.61,39.54 L147.36,39.88 L149.11,40.22 L150.86,40.56 L152.61,40.90 L154.36,41.24 L156.11,41.58 L157.86,41.92 L159.60,42.25 L161.35,42.59 L163.10,42.93 L164.85,43.26 L166.60,43.60 L168.35,43.94 L170.10,44.27 L171.85,44.61 L173.60,44.94 L175.35,45.28 L177.10,45.61 L178.85,45.95 L180.60,46.29 L182.35,46.62 L184.10,46.96 L185.85,47.29 L187.60,47.63 L189.35,47.96 L191.09,48.30 L192.84,48.64 L194.59,48.97 L196.34,49.31 L198.09,49.65 L199.84,49.98 L201.59,50.32 L203.34,50.66 L205.09,50.99 L206.84,51.33 L208.59,51.67 L210.34,52.01 L212.09,52.35 L213.84,52.69 L215.59,53.03 L217.34,53.37 L219.09,53.71 L220.84,54.05 L222.58,54.40 L224.33,54.74 L226.08,55.08 L227.83,55.43 L229.58,55.77 L231.33,56.12 L233.08,56.46 L234.83,56.81 L236.58,57.15 L238.33,57.50 L240.08,57.85 L241.83,58.20 L243.58,58.55 L245.33,58.90 L247.08,59.25 L248.83,59.61 L250.58,59.96 L252.32,60.31 L254.07,60.67 L255.82,61.02 L257.57,61.38 L259.32,61.74 L261.07,62.10 L262.82,62.46 L264.57,62.82 L266.32,63.18 L268.07,63.54 L269.82,63.91 L271.57,64.27 L273.32,64.64 L275.07,65.01 L276.82,65.38 L278.57,65.75 L280.32,66.12 L282.07,66.49 L283.81,66.86 L285.56,67.24 L287.31,67.62 L289.06,67.99 L290.81,68.37 L292.56,68.75 L294.31,69.13 L296.06,69.52 L297.81,69.90 L299.56,70.29 L301.31,70.68 L303.06,71.07 L304.81,71.46 L306.56,71.85 L308.31,72.24 L310.06,72.64 L311.81,73.04 L313.56,73.43 L315.30,73.84 L317.05,74.24 L318.80,74.64 L320.55,75.05 L322.30,75.46 L324.05,75.87 L325.80,76.28 L327.55,76.69 L329.30,77.11" stroke="#0a0a9e" class="cda"/>
<path d="M36.50,7.80 L36.54,8.21 L36.57,8.38 L36.61,8.52 L36.65,8.63 L36.68,8.73 L36.72,8.82 L36.76,8.90 L36.79,8.98 L36.83,9.05 L36.87,9.12 L36.90,9.18 L36.94,9.24 L36.98,9.30 L37.01,9.36 L37.05,9.42 L37.09,9.47 L37.12,9.52 L37.16,9.57 L37.20,9.62 L37.23,9.67 L37.27,9.72 L37.31,9.76 L37.34,9.81 L37.38,9.85 L37.41,9.90 L37.45,9.94 L37.49,9.98 L37.52,10.02 L37.56,10.06 L37.60,10.10 L37.63,10.14 L37.67,10.18 L37.71,10.22 L37.74,10.25 L37.78,10.29 L37.82,10.33 L37.85,10.36 L37.89,10.40 L37.93,10.43 L37.96,10.47 L38.19,10.67 L38.41,10.86 L38.63,11.04 L38.86,11.21 L39.08,11.37 L39.30,11.53 L39.53,11.68 L39.75,11.83 L39.97,11.97 L40.20,12.11 L40.42,12.24 L40.64,12.37 L40.87,12.50 L41.09,12.62 L41.31,12.74 L41.54,12.86 L41.76,12.98 L41.98,13.09 L42.21,13.21 L42.43,13.32 L42.65,13.42 L42.88,13.53 L43.10,13.64 L43.32,13.74 L43.55,13.84 L43.77,13.94 L43.99,14.04 L44.22,14.14 L44.44,14.24 L44.66,14.33 L44.89,14.43 L45.11,14.52 L45.33,14.62 L45.56,14.71 L45.78,14.80 L46.00,14.89 L46.23,14.98 L46.45,15.06 L46.67,15.15 L46.90,15.24 L47.12,15.32 L47.34,15.41 L47.57,15.49 L47.79,15.58 L48.01,15.66 L48.24,15.74 L48.46,15.82 L48.68,15.90 L48.91,15.98 L49.13,16.06 L49.35,16.14 L49.58,16.22 L49.80,16.30 L50.02,16.37 L50.25,16.45 L50.47,16.53 L50.69,16.60 L50.92,16.68 L51.14,16.75 L52.89,17.32 L54.64,17.87 L56.39,18.40 L58.14,18.91 L59.89,19.40 L61.64,19.88 L63.39,20.35 L65.14,20.80 L66.88,21.25 L68.63,21.69 L70.38,22.12 L72.13,22.54 L73.88,22.95 L75.63,23.36 L77.38,23.77 L79.13,24.16 L80.88,24.56 L82.63,24.94 L84.38,25.33 L86.13,25.71 L87.88,26.08 L89.63,26.45 L91.38,26.82 L93.13,27.19 L94.88,27.55 L96.63,27.91 L98.37,28.26 L100.12,28.62 L101.87,28.97 L103.62,29.32 L105.37,29.67 L107.12,30.01 L108.87,30.35 L110.62,30.69 L112.37,31.03 L114.12,31.37 L115.87,31.71 L117.62,32.04 L119.37,32.37 L121.12,32.71 L122.87,33.04 L124.62,33.37 L126.37,33.69 L128.12,34.02 L129.86,34.35 L131.61,34.67 L133.36,34.99 L135.11,35.32 L136.86,35.64 L138.61,35.96 L140.36,36.28 L142.11,36.60 L143.86,36.92 L145.61,37.24 L147.36,37.56 L149.11,37.87 L150.86,38.19 L152.61,38.51 L154.36,38.82 L156.11,39.14 L157.86,39.45 L159.60,39.77 L161.35,40.08 L163.10,40.40 L164.85,40.71 L166.60,41.03 L168.35,41.34 L170.10,41.65 L171.85,41.97 L173.60,42.28 L175.35,42.59 L177.10,42.91 L178.85,43.22 L180.60,43.53 L182.35,43.84 L184.10,44.16 L185.85,44.47 L187.60,44.78 L189.35,45.10 L191.09,45.41 L192.84,45.72 L194.59,46.04 L196.34,46.35 L198.09,46.67 L199.84,46.98 L201.59,47.29 L203.34,47.61 L205.09,47.92 L206.84,48.24 L208.59,48.55 L210.34,48.87 L212.09,49.19 L213.84,49.50 L215.59,49.82 L217.34,50.14 L219.09,50.46 L220.84,50.77 L222.58,51.09 L224.33,51.41 L226.08,51.73 L227.83,52.05 L229.58,52.37 L231.33,52.70 L233.08,53.02 L234.83,53.34 L236.58,53.66 L238.33,53.99 L240.08,54.31 L241.83,54.64 L243.58,54.96 L245.33,55.29 L247.08,55.62 L248.83,55.94 L250.58,56.27 L252.32,56.60 L254.07,56.93 L255.82,57.26 L257.57,57.60 L259.32,57.93 L261.07,58.26 L262.82,58.60 L264.57,58.93 L266.32,59.27 L268.07,59.60 L269.82,59.94 L271.57,60.28 L273.32,60.62 L275.07,60.96 L276.82,61.31 L278.57,61.65 L280.32,61.99 L282.07,62.34 L283.81,62.68 L285.56,63.03 L287.31,63.38 L289.06,63.73 L290.81,64.08 L292.56,64.43 L294.31,64.79 L296.06,65.14 L297.81,65.50 L299.56,65.85 L301.31,66.21 L303.06,66.57 L304.81,66.93 L306.56,67.30 L308.31,67.66 L310.06,68.03 L311.81,68.39 L313.56,68.76 L315.30,69.13 L317.05,69.50 L318.80,69.87 L320.55,70.25 L322.30,70.63 L324.05,71.00 L325.80,71.38 L327.55,71.76 L329.30,72.15" stroke="#008000" class="cda"/></g>
<g clip-path="url(#cr)"><path d="M383.70,93.56 L383.74,93.58 L383.77,93.60 L383.81,93.62 L383.85,93.64 L383.88,93.66 L383.92,93.68 L383.96,93.71 L383.99,93.73 L384.03,93.75 L384.07,93.77 L384.10,93.79 L384.14,93.81 L384.18,93.83 L384.21,93.85 L384.25,93.87 L384.29,93.89 L384.32,93.91 L384.36,93.94 L384.40,93.96 L384.43,93.98 L384.47,94.00 L384.51,94.02 L384.54,94.04 L384.58,94.06 L384.62,94.08 L384.65,94.10 L384.69,94.12 L384.73,94.14 L384.76,94.17 L384.80,94.19 L384.84,94.21 L384.87,94.23 L384.91,94.25 L384.95,94.27 L384.98,94.29 L385.02,94.31 L385.06,94.33 L385.09,94.35 L385.13,94.37 L385.17,94.40 L385.39,94.52 L385.61,94.65 L385.84,94.78 L386.06,94.91 L386.28,95.03 L386.51,95.16 L386.73,95.29 L386.95,95.42 L387.18,95.54 L387.40,95.67 L387.62,95.80 L387.85,95.93 L388.07,96.05 L388.30,96.18 L388.52,96.31 L388.74,96.44 L388.97,96.56 L389.19,96.69 L389.41,96.82 L389.64,96.95 L389.86,97.07 L390.08,97.20 L390.31,97.33 L390.53,97.46 L390.75,97.58 L390.98,97.71 L391.20,97.84 L391.42,97.97 L391.65,98.09 L391.87,98.22 L392.10,98.35 L392.32,98.48 L392.54,98.60 L392.77,98.73 L392.99,98.86 L393.21,98.99 L393.44,99.11 L393.66,99.24 L393.88,99.37 L394.11,99.50 L394.33,99.62 L394.55,99.75 L394.78,99.88 L395.00,100.01 L395.23,100.13 L395.45,100.26 L395.67,100.39 L395.90,100.52 L396.12,100.64 L396.34,100.77 L396.57,100.90 L396.79,101.03 L397.01,101.15 L397.24,101.28 L397.46,101.41 L397.68,101.54 L397.91,101.67 L398.13,101.79 L398.35,101.92 L400.11,102.92 L401.86,103.92 L403.61,104.92 L405.36,105.92 L407.11,106.92 L408.86,107.91 L410.61,108.91 L412.36,109.91 L414.12,110.91 L415.87,111.91 L417.62,112.91 L419.37,113.91 L421.12,114.91 L422.87,115.91 L424.62,116.91 L426.37,117.91 L428.13,118.90 L429.88,119.90 L431.63,120.90 L433.38,121.90 L435.13,122.90 L436.88,123.90 L438.63,124.90 L440.38,125.90 L442.14,126.90 L443.89,127.90 L445.64,128.90 L447.39,129.89 L449.14,130.89 L450.89,131.89 L452.64,132.89 L454.39,133.89 L456.15,134.89 L457.90,135.89 L459.65,136.89 L461.40,137.89 L463.15,138.89 L464.90,139.88 L466.65,140.88 L468.40,141.88 L470.16,142.88 L471.91,143.88 L473.66,144.88 L475.41,145.88 L477.16,146.88 L478.91,147.88 L480.66,148.88 L482.41,149.88 L484.17,150.87 L485.92,151.87 L487.67,152.87 L489.42,153.87 L491.17,154.87 L492.92,155.87 L494.67,156.87 L496.42,157.87 L498.17,158.87 L499.93,159.87 L501.68,160.87 L503.43,161.86 L505.18,162.86 L506.93,163.86 L508.68,164.86 L510.43,165.86 L512.18,166.86 L513.94,167.86 L515.69,168.86 L517.44,169.86 L519.19,170.86 L520.94,171.86 L522.69,172.85 L524.44,173.85 L526.19,174.85 L527.95,175.85 L529.70,176.85 L531.45,177.85 L533.20,178.85 L534.95,179.85 L536.70,180.85 L538.45,181.85 L540.20,182.85 L541.96,183.84 L543.71,184.84 L545.46,185.84 L547.21,186.84 L548.96,187.84 L550.71,188.84 L552.46,189.84 L554.21,190.84 L555.97,191.84 L557.72,192.84 L559.47,193.83 L561.22,194.83 L562.97,195.83 L564.72,196.83 L566.47,197.83 L568.22,198.83 L569.98,199.83 L571.73,200.83 L573.48,201.83 L575.23,202.83 L576.98,203.83 L578.73,204.82 L580.48,205.82 L582.23,206.82 L583.99,207.82 L585.74,208.82 L587.49,209.82 L589.24,210.82 L590.99,211.82 L592.74,212.82 L594.49,213.82 L596.24,214.82 L597.99,215.81 L599.75,216.81 L601.50,217.81 L603.25,218.81 L605.00,219.81 L606.75,220.81 L608.50,221.81 L610.25,222.81 L612.00,223.81 L613.76,224.81 L615.51,225.81 L617.26,226.80 L619.01,227.80 L620.76,228.80 L622.51,229.80 L624.26,230.80 L626.01,231.80 L627.77,232.80 L629.52,233.80 L631.27,234.80 L633.02,235.80 L634.77,236.80 L636.52,237.79 L638.27,238.79 L640.02,239.79 L641.78,240.79 L643.53,241.79 L645.28,242.79 L647.03,243.79 L648.78,244.79 L650.53,245.79" stroke="#ff0000" class="cdb"/>
<path d="M383.70,29.46 L383.74,29.47 L383.77,29.48 L383.81,29.49 L383.85,29.50 L383.88,29.51 L383.92,29.52 L383.96,29.53 L383.99,29.54 L384.03,29.55 L384.07,29.56 L384.10,29.57 L384.14,29.58 L384.18,29.59 L384.21,29.60 L384.25,29.61 L384.29,29.63 L384.32,29.64 L384.36,29.65 L384.40,29.66 L384.43,29.67 L384.47,29.68 L384.51,29.69 L384.54,29.70 L384.58,29.71 L384.62,29.72 L384.65,29.73 L384.69,29.74 L384.73,29.75 L384.76,29.76 L384.80,29.77 L384.84,29.78 L384.87,29.79 L384.91,29.80 L384.95,29.81 L384.98,29.82 L385.02,29.84 L385.06,29.85 L385.09,29.86 L385.13,29.87 L385.17,29.88 L385.39,29.94 L385.61,30.01 L385.84,30.07 L386.06,30.13 L386.28,30.20 L386.51,30.26 L386.73,30.33 L386.95,30.39 L387.18,30.45 L387.40,30.52 L387.62,30.58 L387.85,30.65 L388.07,30.71 L388.30,30.77 L388.52,30.84 L388.74,30.90 L388.97,30.97 L389.19,31.03 L389.41,31.09 L389.64,31.16 L389.86,31.22 L390.08,31.29 L390.31,31.35 L390.53,31.41 L390.75,31.48 L390.98,31.54 L391.20,31.61 L391.42,31.67 L391.65,31.73 L391.87,31.80 L392.10,31.86 L392.32,31.93 L392.54,31.99 L392.77,32.06 L392.99,32.12 L393.21,32.18 L393.44,32.25 L393.66,32.31 L393.88,32.38 L394.11,32.44 L394.33,32.50 L394.55,32.57 L394.78,32.63 L395.00,32.70 L395.23,32.76 L395.45,32.82 L395.67,32.89 L395.90,32.95 L396.12,33.02 L396.34,33.08 L396.57,33.14 L396.79,33.21 L397.01,33.27 L397.24,33.34 L397.46,33.40 L397.68,33.46 L397.91,33.53 L398.13,33.59 L398.35,33.66 L400.11,34.16 L401.86,34.66 L403.61,35.16 L405.36,35.66 L407.11,36.17 L408.86,36.67 L410.61,37.17 L412.36,37.67 L414.12,38.17 L415.87,38.67 L417.62,39.18 L419.37,39.68 L421.12,40.18 L422.87,40.68 L424.62,41.18 L426.37,41.68 L428.13,42.19 L429.88,42.69 L431.63,43.19 L433.38,43.69 L435.13,44.19 L436.88,44.69 L438.63,45.20 L440.38,45.70 L442.14,46.20 L443.89,46.70 L445.64,47.20 L447.39,47.71 L449.14,48.21 L450.89,48.71 L452.64,49.21 L454.39,49.71 L456.15,50.21 L457.90,50.72 L459.65,51.22 L461.40,51.72 L463.15,52.22 L464.90,52.72 L466.65,53.22 L468.40,53.73 L470.16,54.23 L471.91,54.73 L473.66,55.23 L475.41,55.73 L477.16,56.23 L478.91,56.74 L480.66,57.24 L482.41,57.74 L484.17,58.24 L485.92,58.74 L487.67,59.25 L489.42,59.75 L491.17,60.25 L492.92,60.75 L494.67,61.25 L496.42,61.75 L498.17,62.26 L499.93,62.76 L501.68,63.26 L503.43,63.76 L505.18,64.26 L506.93,64.76 L508.68,65.27 L510.43,65.77 L512.18,66.27 L513.94,66.77 L515.69,67.27 L517.44,67.78 L519.19,68.28 L520.94,68.78 L522.69,69.28 L524.44,69.78 L526.19,70.28 L527.95,70.79 L529.70,71.29 L531.45,71.79 L533.20,72.29 L534.95,72.79 L536.70,73.29 L538.45,73.80 L540.20,74.30 L541.96,74.80 L543.71,75.30 L545.46,75.80 L547.21,76.30 L548.96,76.81 L550.71,77.31 L552.46,77.81 L554.21,78.31 L555.97,78.81 L557.72,79.32 L559.47,79.82 L561.22,80.32 L562.97,80.82 L564.72,81.32 L566.47,81.82 L568.22,82.33 L569.98,82.83 L571.73,83.33 L573.48,83.83 L575.23,84.33 L576.98,84.83 L578.73,85.34 L580.48,85.84 L582.23,86.34 L583.99,86.84 L585.74,87.34 L587.49,87.84 L589.24,88.35 L590.99,88.85 L592.74,89.35 L594.49,89.85 L596.24,90.35 L597.99,90.86 L599.75,91.36 L601.50,91.86 L603.25,92.36 L605.00,92.86 L606.75,93.36 L608.50,93.87 L610.25,94.37 L612.00,94.87 L613.76,95.37 L615.51,95.87 L617.26,96.37 L619.01,96.88 L620.76,97.38 L622.51,97.88 L624.26,98.38 L626.01,98.88 L627.77,99.39 L629.52,99.89 L631.27,100.39 L633.02,100.89 L634.77,101.39 L636.52,101.89 L638.27,102.40 L640.02,102.90 L641.78,103.40 L643.53,103.90 L645.28,104.40 L647.03,104.90 L648.78,105.41 L650.53,105.91 L652.28,106.41 L654.03,106.91 L655.79,107.41 L657.54,107.91 L659.29,108.42 L661.04,108.92 L662.79,109.42 L664.54,109.92 L666.29,110.42 L668.04,110.93 L669.80,111.43 L671.55,111.93 L673.30,112.43 L675.05,112.93 L676.80,113.43" stroke="#000000" class="cdb"/>
<path d="M383.70,19.61 L383.74,19.62 L383.77,19.63 L383.81,19.63 L383.85,19.64 L383.88,19.65 L383.92,19.66 L383.96,19.66 L383.99,19.67 L384.03,19.68 L384.07,19.68 L384.10,19.69 L384.14,19.70 L384.18,19.70 L384.21,19.71 L384.25,19.72 L384.29,19.72 L384.32,19.73 L384.36,19.74 L384.40,19.74 L384.43,19.75 L384.47,19.76 L384.51,19.76 L384.54,19.77 L384.58,19.78 L384.62,19.78 L384.65,19.79 L384.69,19.80 L384.73,19.80 L384.76,19.81 L384.80,19.82 L384.84,19.82 L384.87,19.83 L384.91,19.84 L384.95,19.85 L384.98,19.85 L385.02,19.86 L385.06,19.87 L385.09,19.87 L385.13,19.88 L385.17,19.89 L385.39,19.93 L385.61,19.97 L385.84,20.01 L386.06,20.05 L386.28,20.09 L386.51,20.13 L386.73,20.18 L386.95,20.22 L387.18,20.26 L387.40,20.30 L387.62,20.34 L387.85,20.38 L388.07,20.42 L388.30,20.47 L388.52,20.51 L388.74,20.55 L388.97,20.59 L389.19,20.63 L389.41,20.67 L389.64,20.72 L389.86,20.76 L390.08,20.80 L390.31,20.84 L390.53,20.88 L390.75,20.92 L390.98,20.96 L391.20,21.01 L391.42,21.05 L391.65,21.09 L391.87,21.13 L392.10,21.17 L392.32,21.21 L392.54,21.25 L392.77,21.30 L392.99,21.34 L393.21,21.38 L393.44,21.42 L393.66,21.46 L393.88,21.50 L394.11,21.54 L394.33,21.59 L394.55,21.63 L394.78,21.67 L395.00,21.71 L395.23,21.75 L395.45,21.79 L395.67,21.83 L395.90,21.88 L396.12,21.92 L396.34,21.96 L396.57,22.00 L396.79,22.04 L397.01,22.08 L397.24,22.12 L397.46,22.17 L397.68,22.21 L397.91,22.25 L398.13,22.29 L398.35,22.33 L400.11,22.66 L401.86,22.98 L403.61,23.31 L405.36,23.63 L407.11,23.95 L408.86,24.28 L410.61,24.60 L412.36,24.93 L414.12,25.25 L415.87,25.58 L417.62,25.90 L419.37,26.23 L421.12,26.55 L422.87,26.88 L424.62,27.20 L426.37,27.53 L428.13,27.85 L429.88,28.18 L431.63,28.50 L433.38,28.83 L435.13,29.15 L436.88,29.47 L438.63,29.80 L440.38,30.12 L442.14,30.45 L443.89,30.77 L445.64,31.10 L447.39,31.42 L449.14,31.75 L450.89,32.07 L452.64,32.40 L454.39,32.72 L456.15,33.05 L457.90,33.37 L459.65,33.70 L461.40,34.02 L463.15,34.34 L464.90,34.67 L466.65,34.99 L468.40,35.32 L470.16,35.64 L471.91,35.97 L473.66,36.29 L475.41,36.62 L477.16,36.94 L478.91,37.27 L480.66,37.59 L482.41,37.92 L484.17,38.24 L485.92,38.57 L487.67,38.89 L489.42,39.22 L491.17,39.54 L492.92,39.86 L494.67,40.19 L496.42,40.51 L498.17,40.84 L499.93,41.16 L501.68,41.49 L503.43,41.81 L505.18,42.14 L506.93,42.46 L508.68,42.79 L510.43,43.11 L512.18,43.44 L513.94,43.76 L515.69,44.09 L517.44,44.41 L519.19,44.73 L520.94,45.06 L522.69,45.38 L524.44,45.71 L526.19,46.03 L527.95,46.36 L529.70,46.68 L531.45,47.01 L533.20,47.33 L534.95,47.66 L536.70,47.98 L538.45,48.31 L540.20,48.63 L541.96,48.96 L543.71,49.28 L545.46,49.60 L547.21,49.93 L548.96,50.25 L550.71,50.58 L552.46,50.90 L554.21,51.23 L555.97,51.55 L557.72,51.88 L559.47,52.20 L561.22,52.53 L562.97,52.85 L564.72,53.18 L566.47,53.50 L568.22,53.83 L569.98,54.15 L571.73,54.48 L573.48,54.80 L575.23,55.12 L576.98,55.45 L578.73,55.77 L580.48,56.10 L582.23,56.42 L583.99,56.75 L585.74,57.07 L587.49,57.40 L589.24,57.72 L590.99,58.05 L592.74,58.37 L594.49,58.70 L596.24,59.02 L597.99,59.35 L599.75,59.67 L601.50,59.99 L603.25,60.32 L605.00,60.64 L606.75,60.97 L608.50,61.29 L610.25,61.62 L612.00,61.94 L613.76,62.27 L615.51,62.59 L617.26,62.92 L619.01,63.24 L620.76,63.57 L622.51,63.89 L624.26,64.22 L626.01,64.54 L627.77,64.87 L629.52,65.19 L631.27,65.51 L633.02,65.84 L634.77,66.16 L636.52,66.49 L638.27,66.81 L640.02,67.14 L641.78,67.46 L643.53,67.79 L645.28,68.11 L647.03,68.44 L648.78,68.76 L650.53,69.09 L652.28,69.41 L654.03,69.74 L655.79,70.06 L657.54,70.38 L659.29,70.71 L661.04,71.03 L662.79,71.36 L664.54,71.68 L666.29,72.01 L668.04,72.33 L669.80,72.66 L671.55,72.98 L673.30,73.31 L675.05,73.63 L676.80,73.96" stroke="#0a0a9e" class="cdb"/>
<path d="M383.70,18.62 L383.74,18.63 L383.77,18.64 L383.81,18.64 L383.85,18.65 L383.88,18.65 L383.92,18.66 L383.96,18.67 L383.99,18.67 L384.03,18.68 L384.07,18.69 L384.10,18.69 L384.14,18.70 L384.18,18.71 L384.21,18.71 L384.25,18.72 L384.29,18.72 L384.32,18.73 L384.36,18.74 L384.40,18.74 L384.43,18.75 L384.47,18.76 L384.51,18.76 L384.54,18.77 L384.58,18.77 L384.62,18.78 L384.65,18.79 L384.69,18.79 L384.73,18.80 L384.76,18.81 L384.80,18.81 L384.84,18.82 L384.87,18.83 L384.91,18.83 L384.95,18.84 L384.98,18.84 L385.02,18.85 L385.06,18.86 L385.09,18.86 L385.13,18.87 L385.17,18.88 L385.39,18.92 L385.61,18.95 L385.84,18.99 L386.06,19.03 L386.28,19.07 L386.51,19.11 L386.73,19.15 L386.95,19.19 L387.18,19.22 L387.40,19.26 L387.62,19.30 L387.85,19.34 L388.07,19.38 L388.30,19.42 L388.52,19.46 L388.74,19.50 L388.97,19.53 L389.19,19.57 L389.41,19.61 L389.64,19.65 L389.86,19.69 L390.08,19.73 L390.31,19.77 L390.53,19.81 L390.75,19.84 L390.98,19.88 L391.20,19.92 L391.42,19.96 L391.65,20.00 L391.87,20.04 L392.10,20.08 L392.32,20.12 L392.54,20.15 L392.77,20.19 L392.99,20.23 L393.21,20.27 L393.44,20.31 L393.66,20.35 L393.88,20.39 L394.11,20.42 L394.33,20.46 L394.55,20.50 L394.78,20.54 L395.00,20.58 L395.23,20.62 L395.45,20.66 L395.67,20.70 L395.90,20.73 L396.12,20.77 L396.34,20.81 L396.57,20.85 L396.79,20.89 L397.01,20.93 L397.24,20.97 L397.46,21.01 L397.68,21.04 L397.91,21.08 L398.13,21.12 L398.35,21.16 L400.11,21.46 L401.86,21.77 L403.61,22.07 L405.36,22.37 L407.11,22.68 L408.86,22.98 L410.61,23.28 L412.36,23.59 L414.12,23.89 L415.87,24.19 L417.62,24.50 L419.37,24.80 L421.12,25.10 L422.87,25.41 L424.62,25.71 L426.37,26.01 L428.13,26.31 L429.88,26.62 L431.63,26.92 L433.38,27.22 L435.13,27.53 L436.88,27.83 L438.63,28.13 L440.38,28.44 L442.14,28.74 L443.89,29.04 L445.64,29.35 L447.39,29.65 L449.14,29.95 L450.89,30.26 L452.64,30.56 L454.39,30.86 L456.15,31.17 L457.90,31.47 L459.65,31.77 L461.40,32.08 L463.15,32.38 L464.90,32.68 L466.65,32.99 L468.40,33.29 L470.16,33.59 L471.91,33.90 L473.66,34.20 L475.41,34.50 L477.16,34.81 L478.91,35.11 L480.66,35.41 L482.41,35.71 L484.17,36.02 L485.92,36.32 L487.67,36.62 L489.42,36.93 L491.17,37.23 L492.92,37.53 L494.67,37.84 L496.42,38.14 L498.17,38.44 L499.93,38.75 L501.68,39.05 L503.43,39.35 L505.18,39.66 L506.93,39.96 L508.68,40.26 L510.43,40.57 L512.18,40.87 L513.94,41.17 L515.69,41.48 L517.44,41.78 L519.19,42.08 L520.94,42.39 L522.69,42.69 L524.44,42.99 L526.19,43.30 L527.95,43.60 L529.70,43.90 L531.45,44.21 L533.20,44.51 L534.95,44.81 L536.70,45.11 L538.45,45.42 L540.20,45.72 L541.96,46.02 L543.71,46.33 L545.46,46.63 L547.21,46.93 L548.96,47.24 L550.71,47.54 L552.46,47.84 L554.21,48.15 L555.97,48.45 L557.72,48.75 L559.47,49.06 L561.22,49.36 L562.97,49.66 L564.72,49.97 L566.47,50.27 L568.22,50.57 L569.98,50.88 L571.73,51.18 L573.48,51.48 L575.23,51.79 L576.98,52.09 L578.73,52.39 L580.48,52.70 L582.23,53.00 L583.99,53.30 L585.74,53.61 L587.49,53.91 L589.24,54.21 L590.99,54.51 L592.74,54.82 L594.49,55.12 L596.24,55.42 L597.99,55.73 L599.75,56.03 L601.50,56.33 L603.25,56.64 L605.00,56.94 L606.75,57.24 L608.50,57.55 L610.25,57.85 L612.00,58.15 L613.76,58.46 L615.51,58.76 L617.26,59.06 L619.01,59.37 L620.76,59.67 L622.51,59.97 L624.26,60.28 L626.01,60.58 L627.77,60.88 L629.52,61.19 L631.27,61.49 L633.02,61.79 L634.77,62.10 L636.52,62.40 L638.27,62.70 L640.02,63.01 L641.78,63.31 L643.53,63.61 L645.28,63.91 L647.03,64.22 L648.78,64.52 L650.53,64.82 L652.28,65.13 L654.03,65.43 L655.79,65.73 L657.54,66.04 L659.29,66.34 L661.04,66.64 L662.79,66.95 L664.54,67.25 L666.29,67.55 L668.04,67.86 L669.80,68.16 L671.55,68.46 L673.30,68.77 L675.05,69.07 L676.80,69.37" stroke="#008000" class="cdb"/>
<path d="M383.70,7.80 L383.74,12.19 L383.77,13.97 L383.81,15.31 L383.85,16.43 L383.88,17.41 L383.92,18.29 L383.96,19.09 L383.99,19.83 L384.03,20.52 L384.07,21.17 L384.10,21.79 L384.14,22.37 L384.18,22.93 L384.21,23.46 L384.25,23.98 L384.29,24.47 L384.32,24.95 L384.36,25.41 L384.40,25.86 L384.43,26.29 L384.47,26.71 L384.51,27.12 L384.54,27.52 L384.58,27.91 L384.62,28.29 L384.65,28.66 L384.69,29.03 L384.73,29.38 L384.76,29.73 L384.80,30.07 L384.84,30.41 L384.87,30.73 L384.91,31.06 L384.95,31.37 L384.98,31.68 L385.02,31.99 L385.06,32.29 L385.09,32.59 L385.13,32.88 L385.17,33.17 L385.39,34.83 L385.61,36.37 L385.84,37.80 L386.06,39.14 L386.28,40.41 L386.51,41.61 L386.73,42.75 L386.95,43.84 L387.18,44.88 L387.40,45.89 L387.62,46.85 L387.85,47.78 L388.07,48.68 L388.30,49.55 L388.52,50.39 L388.74,51.21 L388.97,52.00 L389.19,52.78 L389.41,53.53 L389.64,54.26 L389.86,54.98 L390.08,55.68 L390.31,56.36 L390.53,57.03 L390.75,57.69 L390.98,58.33 L391.20,58.95 L391.42,59.57 L391.65,60.17 L391.87,60.77 L392.10,61.35 L392.32,61.92 L392.54,62.48 L392.77,63.04 L392.99,63.58 L393.21,64.12 L393.44,64.64 L393.66,65.16 L393.88,65.67 L394.11,66.18 L394.33,66.67 L394.55,67.16 L394.78,67.65 L395.00,68.12 L395.23,68.59 L395.45,69.06 L395.67,69.52 L395.90,69.97 L396.12,70.42 L396.34,70.86 L396.57,71.30 L396.79,71.73 L397.01,72.15 L397.24,72.58 L397.46,72.99 L397.68,73.41 L397.91,73.82 L398.13,74.22 L398.35,74.62 L400.11,77.62 L401.86,80.42 L403.61,83.04 L405.36,85.51 L407.11,87.85 L408.86,90.09 L410.61,92.22 L412.36,94.27 L414.12,96.24 L415.87,98.14 L417.62,99.97 L419.37,101.75 L421.12,103.48 L422.87,105.16 L424.62,106.79 L426.37,108.38 L428.13,109.94 L429.88,111.46 L431.63,112.95 L433.38,114.41 L435.13,115.84 L436.88,117.25 L438.63,118.63 L440.38,119.99 L442.14,121.32 L443.89,122.64 L445.64,123.94 L447.39,125.23 L449.14,126.49 L450.89,127.74 L452.64,128.98 L454.39,130.20 L456.15,131.41 L457.90,132.61 L459.65,133.80 L461.40,134.97 L463.15,136.14 L464.90,137.29 L466.65,138.44 L468.40,139.58 L470.16,140.71 L471.91,141.83 L473.66,142.95 L475.41,144.06 L477.16,145.16 L478.91,146.26 L480.66,147.35 L482.41,148.44 L484.17,149.52 L485.92,150.60 L487.67,151.67 L489.42,152.74 L491.17,153.80 L492.92,154.86 L494.67,155.92 L496.42,156.97 L498.17,158.02 L499.93,159.07 L501.68,160.12 L503.43,161.16 L505.18,162.20 L506.93,163.24 L508.68,164.27 L510.43,165.30 L512.18,166.34 L513.94,167.37 L515.69,168.39 L517.44,169.42 L519.19,170.44 L520.94,171.47 L522.69,172.49 L524.44,173.51 L526.19,174.53 L527.95,175.54 L529.70,176.56 L531.45,177.58 L533.20,178.59 L534.95,179.61 L536.70,180.62 L538.45,181.63 L540.20,182.64 L541.96,183.65 L543.71,184.66 L545.46,185.67 L547.21,186.68 L548.96,187.69 L550.71,188.70 L552.46,189.71 L554.21,190.71 L555.97,191.72 L557.72,192.72 L559.47,193.73 L561.22,194.74 L562.97,195.74 L564.72,196.74 L566.47,197.75 L568.22,198.75 L569.98,199.76 L571.73,200.76 L573.48,201.76 L575.23,202.77 L576.98,203.77 L578.73,204.77 L580.48,205.77 L582.23,206.77 L583.99,207.78 L585.74,208.78 L587.49,209.78 L589.24,210.78 L590.99,211.78 L592.74,212.78 L594.49,213.78 L596.24,214.79 L597.99,215.79 L599.75,216.79 L601.50,217.79 L603.25,218.79 L605.00,219.79 L606.75,220.79 L608.50,221.79 L610.25,222.79 L612.00,223.79 L613.76,224.79 L615.51,225.79 L617.26,226.79 L619.01,227.79 L620.76,228.79 L622.51,229.79 L624.26,230.79 L626.01,231.79 L627.77,232.79 L629.52,233.79 L631.27,234.79 L633.02,235.79 L634.77,236.79 L636.52,237.79 L638.27,238.79 L640.02,239.79 L641.78,240.78 L643.53,241.78 L645.28,242.78 L647.03,243.78 L648.78,244.78 L650.53,245.78" stroke="#ff0000" class="cs"/>
<path d="M383.70,7.80 L383.74,8.62 L383.77,8.95 L383.81,9.21 L383.85,9.43 L383.88,9.63 L383.92,9.80 L383.96,9.96 L383.99,10.11 L384.03,10.25 L384.07,10.39 L384.10,10.52 L384.14,10.64 L384.18,10.75 L384.21,10.87 L384.25,10.97 L384.29,11.08 L384.32,11.18 L384.36,11.28 L384.40,11.38 L384.43,11.47 L384.47,11.56 L384.51,11.65 L384.54,11.74 L384.58,11.82 L384.62,11.91 L384.65,11.99 L384.69,12.07 L384.73,12.15 L384.76,12.23 L384.80,12.30 L384.84,12.38 L384.87,12.45 L384.91,12.52 L384.95,12.60 L384.98,12.67 L385.02,12.74 L385.06,12.81 L385.09,12.87 L385.13,12.94 L385.17,13.01 L385.39,13.40 L385.61,13.76 L385.84,14.10 L386.06,14.43 L386.28,14.74 L386.51,15.04 L386.73,15.33 L386.95,15.61 L387.18,15.88 L387.40,16.14 L387.62,16.39 L387.85,16.64 L388.07,16.88 L388.30,17.11 L388.52,17.34 L388.74,17.57 L388.97,17.79 L389.19,18.00 L389.41,18.21 L389.64,18.42 L389.86,18.62 L390.08,18.82 L390.31,19.02 L390.53,19.22 L390.75,19.41 L390.98,19.59 L391.20,19.78 L391.42,19.96 L391.65,20.14 L391.87,20.32 L392.10,20.50 L392.32,20.67 L392.54,20.84 L392.77,21.01 L392.99,21.18 L393.21,21.35 L393.44,21.51 L393.66,21.67 L393.88,21.83 L394.11,21.99 L394.33,22.15 L394.55,22.31 L394.78,22.46 L395.00,22.62 L395.23,22.77 L395.45,22.92 L395.67,23.07 L395.90,23.22 L396.12,23.36 L396.34,23.51 L396.57,23.65 L396.79,23.80 L397.01,23.94 L397.24,24.08 L397.46,24.22 L397.68,24.36 L397.91,24.50 L398.13,24.64 L398.35,24.77 L400.11,25.81 L401.86,26.80 L403.61,27.75 L405.36,28.67 L407.11,29.55 L408.86,30.41 L410.61,31.24 L412.36,32.05 L414.12,32.84 L415.87,33.62 L417.62,34.37 L419.37,35.12 L421.12,35.84 L422.87,36.56 L424.62,37.26 L426.37,37.95 L428.13,38.64 L429.88,39.31 L431.63,39.97 L433.38,40.63 L435.13,41.28 L436.88,41.92 L438.63,42.55 L440.38,43.18 L442.14,43.80 L443.89,44.41 L445.64,45.02 L447.39,45.63 L449.14,46.23 L450.89,46.82 L452.64,47.41 L454.39,48.00 L456.15,48.58 L457.90,49.16 L459.65,49.73 L461.40,50.30 L463.15,50.87 L464.90,51.44 L466.65,52.00 L468.40,52.56 L470.16,53.11 L471.91,53.67 L473.66,54.22 L475.41,54.77 L477.16,55.31 L478.91,55.86 L480.66,56.40 L482.41,56.94 L484.17,57.48 L485.92,58.02 L487.67,58.55 L489.42,59.09 L491.17,59.62 L492.92,60.15 L494.67,60.68 L496.42,61.21 L498.17,61.74 L499.93,62.26 L501.68,62.79 L503.43,63.31 L505.18,63.83 L506.93,64.35 L508.68,64.88 L510.43,65.40 L512.18,65.91 L513.94,66.43 L515.69,66.95 L517.44,67.47 L519.19,67.98 L520.94,68.50 L522.69,69.01 L524.44,69.53 L526.19,70.04 L527.95,70.55 L529.70,71.07 L531.45,71.58 L533.20,72.09 L534.95,72.60 L536.70,73.11 L538.45,73.62 L540.20,74.13 L541.96,74.64 L543.71,75.15 L545.46,75.66 L547.21,76.17 L548.96,76.68 L550.71,77.18 L552.46,77.69 L554.21,78.20 L555.97,78.71 L557.72,79.21 L559.47,79.72 L561.22,80.23 L562.97,80.73 L564.72,81.24 L566.47,81.74 L568.22,82.25 L569.98,82.75 L571.73,83.26 L573.48,83.76 L575.23,84.27 L576.98,84.77 L578.73,85.28 L580.48,85.78 L582.23,86.29 L583.99,86.79 L585.74,87.30 L587.49,87.80 L589.24,88.30 L590.99,88.81 L592.74,89.31 L594.49,89.81 L596.24,90.32 L597.99,90.82 L599.75,91.32 L601.50,91.83 L603.25,92.33 L605.00,92.83 L606.75,93.34 L608.50,93.84 L610.25,94.34 L612.00,94.85 L613.76,95.35 L615.51,95.85 L617.26,96.35 L619.01,96.86 L620.76,97.36 L622.51,97.86 L624.26,98.36 L626.01,98.87 L627.77,99.37 L629.52,99.87 L631.27,100.37 L633.02,100.88 L634.77,101.38 L636.52,101.88 L638.27,102.38 L640.02,102.89 L641.78,103.39 L643.53,103.89 L645.28,104.39 L647.03,104.90 L648.78,105.40 L650.53,105.90 L652.28,106.40 L654.03,106.90 L655.79,107.41 L657.54,107.91 L659.29,108.41 L661.04,108.91 L662.79,109.41 L664.54,109.92 L666.29,110.42 L668.04,110.92 L669.80,111.42 L671.55,111.92 L673.30,112.43 L675.05,112.93 L676.80,113.43" stroke="#000000" class="cs"/>
<path d="M383.70,7.80 L383.74,8.25 L383.77,8.44 L383.81,8.58 L383.85,8.70 L383.88,8.81 L383.92,8.91 L383.96,9.00 L383.99,9.08 L384.03,9.16 L384.07,9.23 L384.10,9.30 L384.14,9.37 L384.18,9.44 L384.21,9.50 L384.25,9.56 L384.29,9.62 L384.32,9.68 L384.36,9.73 L384.40,9.78 L384.43,9.84 L384.47,9.89 L384.51,9.94 L384.54,9.99 L384.58,10.03 L384.62,10.08 L384.65,10.13 L384.69,10.17 L384.73,10.22 L384.76,10.26 L384.80,10.30 L384.84,10.35 L384.87,10.39 L384.91,10.43 L384.95,10.47 L384.98,10.51 L385.02,10.55 L385.06,10.59 L385.09,10.63 L385.13,10.66 L385.17,10.70 L385.39,10.92 L385.61,11.13 L385.84,11.32 L386.06,11.51 L386.28,11.68 L386.51,11.85 L386.73,12.02 L386.95,12.18 L387.18,12.33 L387.40,12.48 L387.62,12.62 L387.85,12.77 L388.07,12.90 L388.30,13.04 L388.52,13.17 L388.74,13.30 L388.97,13.43 L389.19,13.55 L389.41,13.67 L389.64,13.79 L389.86,13.91 L390.08,14.03 L390.31,14.14 L390.53,14.25 L390.75,14.36 L390.98,14.47 L391.20,14.58 L391.42,14.69 L391.65,14.79 L391.87,14.90 L392.10,15.00 L392.32,15.10 L392.54,15.20 L392.77,15.30 L392.99,15.40 L393.21,15.49 L393.44,15.59 L393.66,15.69 L393.88,15.78 L394.11,15.87 L394.33,15.97 L394.55,16.06 L394.78,16.15 L395.00,16.24 L395.23,16.33 L395.45,16.42 L395.67,16.50 L395.90,16.59 L396.12,16.68 L396.34,16.76 L396.57,16.85 L396.79,16.93 L397.01,17.02 L397.24,17.10 L397.46,17.18 L397.68,17.27 L397.91,17.35 L398.13,17.43 L398.35,17.51 L400.11,18.13 L401.86,18.72 L403.61,19.29 L405.36,19.84 L407.11,20.37 L408.86,20.89 L410.61,21.39 L412.36,21.88 L414.12,22.36 L415.87,22.84 L417.62,23.30 L419.37,23.75 L421.12,24.20 L422.87,24.64 L424.62,25.08 L426.37,25.50 L428.13,25.93 L429.88,26.34 L431.63,26.76 L433.38,27.16 L435.13,27.57 L436.88,27.97 L438.63,28.36 L440.38,28.75 L442.14,29.14 L443.89,29.53 L445.64,29.91 L447.39,30.29 L449.14,30.67 L450.89,31.04 L452.64,31.42 L454.39,31.79 L456.15,32.16 L457.90,32.52 L459.65,32.89 L461.40,33.25 L463.15,33.61 L464.90,33.97 L466.65,34.32 L468.40,34.68 L470.16,35.03 L471.91,35.39 L473.66,35.74 L475.41,36.09 L477.16,36.44 L478.91,36.79 L480.66,37.13 L482.41,37.48 L484.17,37.82 L485.92,38.17 L487.67,38.51 L489.42,38.85 L491.17,39.19 L492.92,39.53 L494.67,39.87 L496.42,40.21 L498.17,40.55 L499.93,40.89 L501.68,41.23 L503.43,41.56 L505.18,41.90 L506.93,42.24 L508.68,42.57 L510.43,42.90 L512.18,43.24 L513.94,43.57 L515.69,43.91 L517.44,44.24 L519.19,44.57 L520.94,44.90 L522.69,45.24 L524.44,45.57 L526.19,45.90 L527.95,46.23 L529.70,46.56 L531.45,46.89 L533.20,47.22 L534.95,47.55 L536.70,47.88 L538.45,48.21 L540.20,48.54 L541.96,48.87 L543.71,49.20 L545.46,49.52 L547.21,49.85 L548.96,50.18 L550.71,50.51 L552.46,50.84 L554.21,51.16 L555.97,51.49 L557.72,51.82 L559.47,52.15 L561.22,52.47 L562.97,52.80 L564.72,53.13 L566.47,53.46 L568.22,53.78 L569.98,54.11 L571.73,54.44 L573.48,54.76 L575.23,55.09 L576.98,55.41 L578.73,55.74 L580.48,56.07 L582.23,56.39 L583.99,56.72 L585.74,57.05 L587.49,57.37 L589.24,57.70 L590.99,58.02 L592.74,58.35 L594.49,58.67 L596.24,59.00 L597.99,59.33 L599.75,59.65 L601.50,59.98 L603.25,60.30 L605.00,60.63 L606.75,60.95 L608.50,61.28 L610.25,61.60 L612.00,61.93 L613.76,62.25 L615.51,62.58 L617.26,62.91 L619.01,63.23 L620.76,63.56 L622.51,63.88 L624.26,64.21 L626.01,64.53 L627.77,64.86 L629.52,65.18 L631.27,65.51 L633.02,65.83 L634.77,66.16 L636.52,66.48 L638.27,66.81 L640.02,67.13 L641.78,67.46 L643.53,67.78 L645.28,68.11 L647.03,68.43 L648.78,68.76 L650.53,69.08 L652.28,69.41 L654.03,69.73 L655.79,70.06 L657.54,70.38 L659.29,70.71 L661.04,71.03 L662.79,71.36 L664.54,71.68 L666.29,72.01 L668.04,72.33 L669.80,72.65 L671.55,72.98 L673.30,73.30 L675.05,73.63 L676.80,73.95" stroke="#0a0a9e" class="cs"/>
<path d="M383.70,7.80 L383.74,8.21 L383.77,8.38 L383.81,8.52 L383.85,8.63 L383.88,8.73 L383.92,8.82 L383.96,8.90 L383.99,8.98 L384.03,9.05 L384.07,9.12 L384.10,9.18 L384.14,9.24 L384.18,9.30 L384.21,9.36 L384.25,9.42 L384.29,9.47 L384.32,9.52 L384.36,9.57 L384.40,9.62 L384.43,9.67 L384.47,9.72 L384.51,9.76 L384.54,9.81 L384.58,9.85 L384.62,9.90 L384.65,9.94 L384.69,9.98 L384.73,10.02 L384.76,10.06 L384.80,10.10 L384.84,10.14 L384.87,10.18 L384.91,10.22 L384.95,10.25 L384.98,10.29 L385.02,10.33 L385.06,10.36 L385.09,10.40 L385.13,10.43 L385.17,10.47 L385.39,10.67 L385.61,10.86 L385.84,11.04 L386.06,11.21 L386.28,11.37 L386.51,11.53 L386.73,11.68 L386.95,11.83 L387.18,11.97 L387.40,12.11 L387.62,12.24 L387.85,12.37 L388.07,12.50 L388.30,12.62 L388.52,12.74 L388.74,12.86 L388.97,12.98 L389.19,13.09 L389.41,13.21 L389.64,13.32 L389.86,13.42 L390.08,13.53 L390.31,13.64 L390.53,13.74 L390.75,13.84 L390.98,13.94 L391.20,14.04 L391.42,14.14 L391.65,14.24 L391.87,14.33 L392.10,14.43 L392.32,14.52 L392.54,14.62 L392.77,14.71 L392.99,14.80 L393.21,14.89 L393.44,14.98 L393.66,15.06 L393.88,15.15 L394.11,15.24 L394.33,15.32 L394.55,15.41 L394.78,15.49 L395.00,15.58 L395.23,15.66 L395.45,15.74 L395.67,15.82 L395.90,15.90 L396.12,15.98 L396.34,16.06 L396.57,16.14 L396.79,16.22 L397.01,16.30 L397.24,16.37 L397.46,16.45 L397.68,16.53 L397.91,16.60 L398.13,16.68 L398.35,16.75 L400.11,17.32 L401.86,17.87 L403.61,18.40 L405.36,18.91 L407.11,19.40 L408.86,19.88 L410.61,20.35 L412.36,20.80 L414.12,21.25 L415.87,21.69 L417.62,22.12 L419.37,22.54 L421.12,22.95 L422.87,23.36 L424.62,23.77 L426.37,24.16 L428.13,24.56 L429.88,24.94 L431.63,25.33 L433.38,25.71 L435.13,26.08 L436.88,26.45 L438.63,26.82 L440.38,27.19 L442.14,27.55 L443.89,27.91 L445.64,28.26 L447.39,28.62 L449.14,28.97 L450.89,29.32 L452.64,29.67 L454.39,30.01 L456.15,30.35 L457.90,30.69 L459.65,31.03 L461.40,31.37 L463.15,31.71 L464.90,32.04 L466.65,32.37 L468.40,32.71 L470.16,33.04 L471.91,33.36 L473.66,33.69 L475.41,34.02 L477.16,34.34 L478.91,34.67 L480.66,34.99 L482.41,35.31 L484.17,35.64 L485.92,35.96 L487.67,36.28 L489.42,36.60 L491.17,36.91 L492.92,37.23 L494.67,37.55 L496.42,37.87 L498.17,38.18 L499.93,38.50 L501.68,38.81 L503.43,39.13 L505.18,39.44 L506.93,39.75 L508.68,40.07 L510.43,40.38 L512.18,40.69 L513.94,41.00 L515.69,41.31 L517.44,41.62 L519.19,41.93 L520.94,42.24 L522.69,42.55 L524.44,42.86 L526.19,43.17 L527.95,43.48 L529.70,43.79 L531.45,44.10 L533.20,44.41 L534.95,44.71 L536.70,45.02 L538.45,45.33 L540.20,45.64 L541.96,45.94 L543.71,46.25 L545.46,46.56 L547.21,46.86 L548.96,47.17 L550.71,47.48 L552.46,47.78 L554.21,48.09 L555.97,48.40 L557.72,48.70 L559.47,49.01 L561.22,49.31 L562.97,49.62 L564.72,49.92 L566.47,50.23 L568.22,50.53 L569.98,50.84 L571.73,51.14 L573.48,51.45 L575.23,51.75 L576.98,52.06 L578.73,52.36 L580.48,52.67 L582.23,52.97 L583.99,53.28 L585.74,53.58 L587.49,53.88 L589.24,54.19 L590.99,54.49 L592.74,54.80 L594.49,55.10 L596.24,55.41 L597.99,55.71 L599.75,56.01 L601.50,56.32 L603.25,56.62 L605.00,56.93 L606.75,57.23 L608.50,57.53 L610.25,57.84 L612.00,58.14 L613.76,58.45 L615.51,58.75 L617.26,59.05 L619.01,59.36 L620.76,59.66 L622.51,59.96 L624.26,60.27 L626.01,60.57 L627.77,60.87 L629.52,61.18 L631.27,61.48 L633.02,61.79 L634.77,62.09 L636.52,62.39 L638.27,62.70 L640.02,63.00 L641.78,63.30 L643.53,63.61 L645.28,63.91 L647.03,64.21 L648.78,64.52 L650.53,64.82 L652.28,65.12 L654.03,65.43 L655.79,65.73 L657.54,66.03 L659.29,66.34 L661.04,66.64 L662.79,66.94 L664.54,67.25 L666.29,67.55 L668.04,67.85 L669.80,68.16 L671.55,68.46 L673.30,68.76 L675.05,69.07 L676.80,69.37" stroke="#008000" class="cs"/></g>
<line x1="149.30" y1="18.0" x2="170.10" y2="18.0" stroke="#ff0000" class="ls"/>
<text x="172.10" y="20.80" class="lg">θ=0.1</text>
<line x1="195.10" y1="18.0" x2="215.90" y2="18.0" stroke="#000000" class="ls"/>
<text x="217.90" y="20.80" class="lg">θ=1</text>
<line x1="233.40" y1="18.0" x2="254.20" y2="18.0" stroke="#0a0a9e" class="ls"/>
<text x="256.20" y="20.80" class="lg">θ=10</text>
<line x1="277.00" y1="18.0" x2="297.80" y2="18.0" stroke="#008000" class="ls"/>
<text x="299.80" y="20.80" class="lg">θ=100</text>
<line x1="149.30" y1="29.2" x2="170.10" y2="29.2" stroke="#ff0000" class="ld"/>
<text x="172.10" y="32.00" class="lg">θ=0.1</text>
<line x1="195.10" y1="29.2" x2="215.90" y2="29.2" stroke="#000000" class="ld"/>
<text x="217.90" y="32.00" class="lg">θ=1</text>
<line x1="233.40" y1="29.2" x2="254.20" y2="29.2" stroke="#0a0a9e" class="ld"/>
<text x="256.20" y="32.00" class="lg">θ=10</text>
<line x1="277.00" y1="29.2" x2="297.80" y2="29.2" stroke="#008000" class="ld"/>
<text x="299.80" y="32.00" class="lg">θ=100</text>
<line x1="496.50" y1="18.0" x2="517.30" y2="18.0" stroke="#ff0000" class="ld"/>
<text x="519.30" y="20.80" class="lg">θ=0.1</text>
<line x1="542.30" y1="18.0" x2="563.10" y2="18.0" stroke="#000000" class="ld"/>
<text x="565.10" y="20.80" class="lg">θ=1</text>
<line x1="580.60" y1="18.0" x2="601.40" y2="18.0" stroke="#0a0a9e" class="ld"/>
<text x="603.40" y="20.80" class="lg">θ=10</text>
<line x1="624.20" y1="18.0" x2="645.00" y2="18.0" stroke="#008000" class="ld"/>
<text x="647.00" y="20.80" class="lg">θ=100</text>
<line x1="496.50" y1="29.2" x2="517.30" y2="29.2" stroke="#ff0000" class="ls"/>
<text x="519.30" y="32.00" class="lg">θ=0.1</text>
<line x1="542.30" y1="29.2" x2="563.10" y2="29.2" stroke="#000000" class="ls"/>
<text x="565.10" y="32.00" class="lg">θ=1</text>
<line x1="580.60" y1="29.2" x2="601.40" y2="29.2" stroke="#0a0a9e" class="ls"/>
<text x="603.40" y="32.00" class="lg">θ=10</text>
<line x1="624.20" y1="29.2" x2="645.00" y2="29.2" stroke="#008000" class="ls"/>
<text x="647.00" y="32.00" class="lg">θ=100</text>
<text x="33.20" y="11.8" class="tl" text-anchor="end">10<tspan class="sup" dy="-4.8">0</tspan></text>
<text x="33.20" y="128.8" class="tl" text-anchor="end">10<tspan class="sup" dy="-4.8">-1</tspan></text>
<text x="33.20" y="246.6" class="tl" text-anchor="end">10<tspan class="sup" dy="-4.8">-2</tspan></text>
<text x="36.50" y="253.6" class="tl" text-anchor="middle">0.0</text>
<text x="109.70" y="253.6" class="tl" text-anchor="middle">0.1</text>
<text x="182.90" y="253.6" class="tl" text-anchor="middle">0.2</text>
<text x="256.10" y="253.6" class="tl" text-anchor="middle">0.3</text>
<text x="329.30" y="253.6" class="tl" text-anchor="middle">0.4</text>
<text x="380.40" y="11.8" class="tl" text-anchor="end">10<tspan class="sup" dy="-4.8">0</tspan></text>
<text x="380.40" y="128.8" class="tl" text-anchor="end">10<tspan class="sup" dy="-4.8">-1</tspan></text>
<text x="380.40" y="246.6" class="tl" text-anchor="end">10<tspan class="sup" dy="-4.8">-2</tspan></text>
<text x="383.70" y="253.6" class="tl" text-anchor="middle">0.0</text>
<text x="456.97" y="253.6" class="tl" text-anchor="middle">0.1</text>
<text x="530.25" y="253.6" class="tl" text-anchor="middle">0.2</text>
<text x="603.52" y="253.6" class="tl" text-anchor="middle">0.3</text>
<text x="676.80" y="253.6" class="tl" text-anchor="middle">0.4</text>
<text x="290" y="52.3" class="an">θ≥100</text>
<text x="249" y="81" class="an">θ=10</text>
<text x="209.5" y="155.1" class="an">θ=1</text>
<text x="135" y="211.6" class="an">θ=0.1</text>
<text x="636.3" y="53.3" class="an">θ≥100</text>
<text x="617.4" y="87" class="an">θ=10</text>
<text x="565" y="140.7" class="an">θ=1</text>
<text x="514" y="203.7" class="an">θ=0.1</text>
<text transform="translate(11,131.8) rotate(-90)" class="tl" style="font-size:11.5px">F<tspan dy="3.2" style="font-size:8px">R</tspan></text>
<text transform="translate(358.3,131.8) rotate(-90)" class="tl" style="font-size:11.5px">F<tspan dy="3.2" style="font-size:8px">R</tspan></text>
<text x="182.7" y="271.6" class="tl" text-anchor="middle" style="font-size:12px">τ</text>
<text x="529.9" y="271.6" class="tl" text-anchor="middle" style="font-size:12px">τ</text>
<text x="184" y="310.6" class="cap" text-anchor="middle">(a)</text>
<text x="539" y="310.6" class="cap" text-anchor="middle">(b)</text>
</svg>
</body></html>
